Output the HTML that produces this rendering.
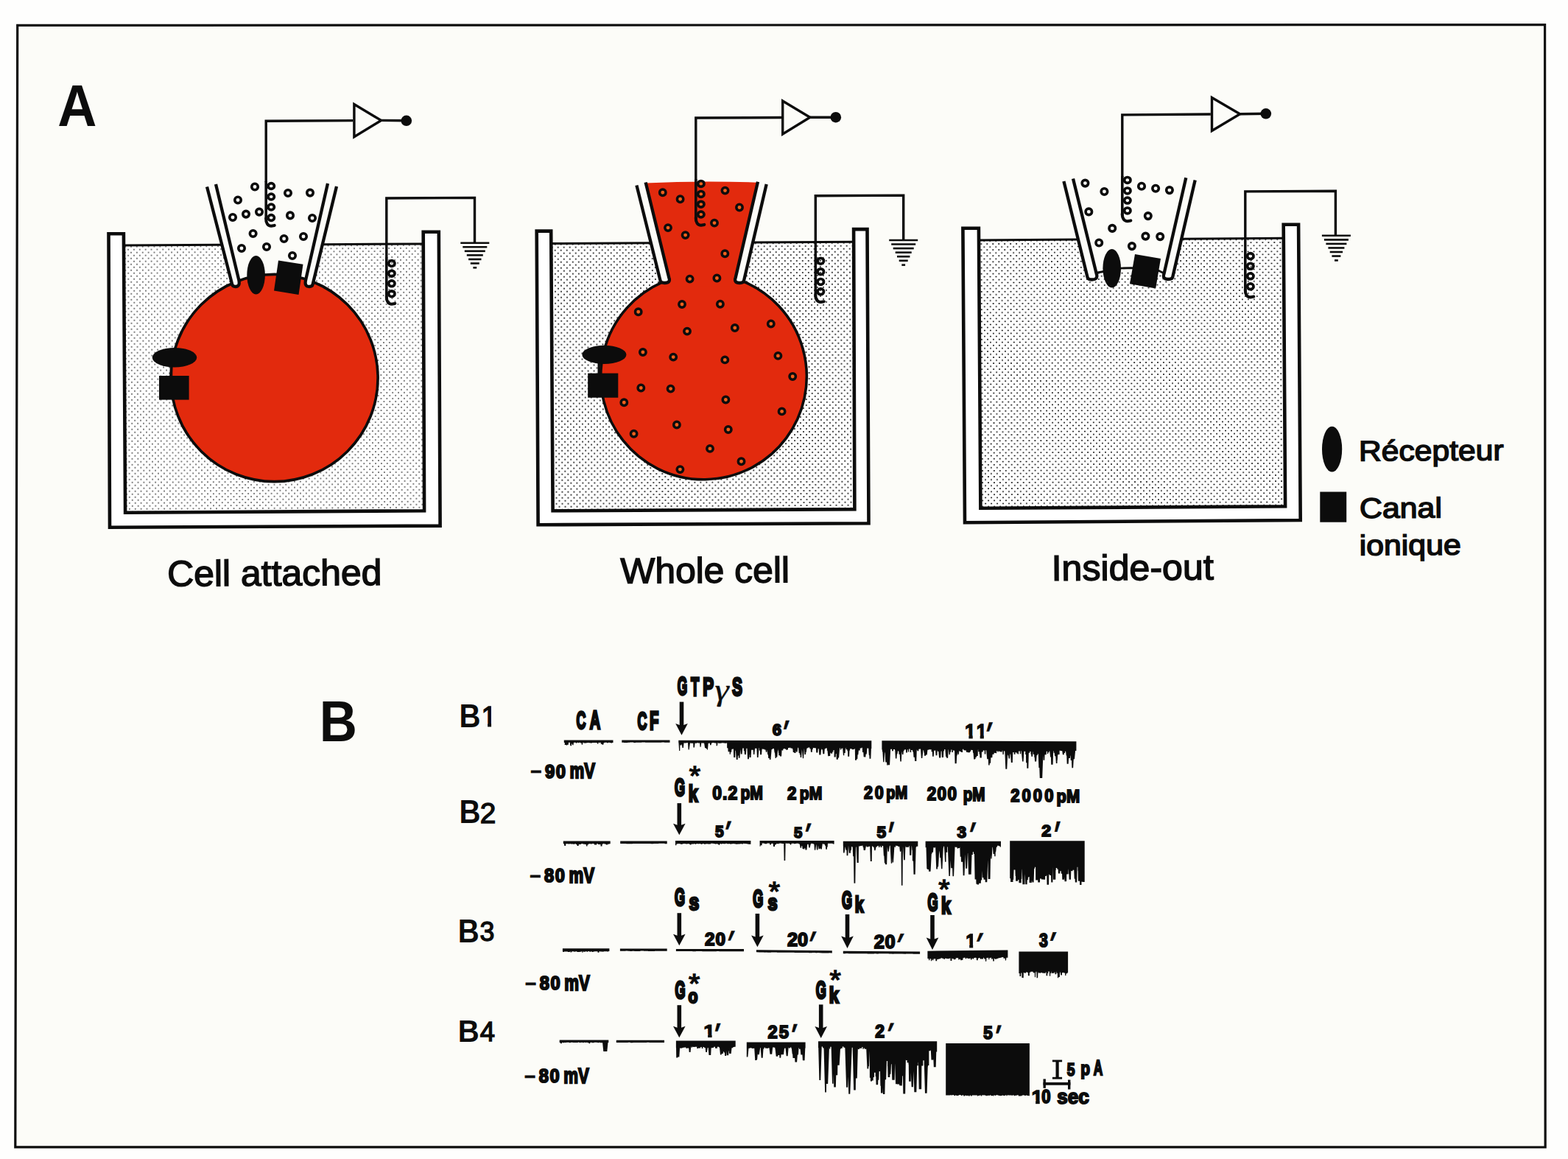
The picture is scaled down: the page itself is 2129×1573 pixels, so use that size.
<!DOCTYPE html>
<html lang="fr"><head><meta charset="utf-8"><title>Patch-clamp : cell attached, whole cell, inside-out</title>
<style>html,body{margin:0;padding:0;background:#fefefd;overflow:hidden}svg{display:block}</style></head>
<body>
<svg xmlns="http://www.w3.org/2000/svg" width="2129" height="1573" viewBox="0 0 2129 1573">
<defs>
<pattern id="dots1" x="174.06" y="338.8" width="7.87" height="8" patternUnits="userSpaceOnUse" patternTransform="rotate(-0.3 174.06 338.8)"><rect width="7.87" height="8" fill="#fff"/><circle cx="0" cy="0" r="0.82" fill="#0a0a0a"/><rect x="-0.36" y="-0.36" width="0.73" height="0.73" fill="#0a0a0a"/><circle cx="7.87" cy="0" r="0.82" fill="#0a0a0a"/><rect x="7.51" y="-0.36" width="0.73" height="0.73" fill="#0a0a0a"/><circle cx="0" cy="8" r="0.82" fill="#0a0a0a"/><rect x="-0.36" y="7.64" width="0.73" height="0.73" fill="#0a0a0a"/><circle cx="7.87" cy="8" r="0.82" fill="#0a0a0a"/><rect x="7.51" y="7.64" width="0.73" height="0.73" fill="#0a0a0a"/><circle cx="3.94" cy="4" r="0.82" fill="#0a0a0a"/><rect x="3.57" y="3.64" width="0.73" height="0.73" fill="#0a0a0a"/></pattern>
<pattern id="dots2" x="765.7" y="335.7" width="8" height="8" patternUnits="userSpaceOnUse" patternTransform="rotate(-0.3 765.7 335.7)"><rect width="8" height="8" fill="#fff"/><circle cx="0" cy="0" r="0.9" fill="#080808"/><rect x="-0.4" y="-0.4" width="0.8" height="0.8" fill="#080808"/><circle cx="8" cy="0" r="0.9" fill="#080808"/><rect x="7.6" y="-0.4" width="0.8" height="0.8" fill="#080808"/><circle cx="0" cy="8" r="0.9" fill="#080808"/><rect x="-0.4" y="7.6" width="0.8" height="0.8" fill="#080808"/><circle cx="8" cy="8" r="0.9" fill="#080808"/><rect x="7.6" y="7.6" width="0.8" height="0.8" fill="#080808"/><circle cx="4" cy="4" r="0.9" fill="#080808"/><rect x="3.6" y="3.6" width="0.8" height="0.8" fill="#080808"/></pattern>
<pattern id="dots3" x="1340.3" y="331.1" width="7.96" height="8.1" patternUnits="userSpaceOnUse" patternTransform="rotate(-0.3 1340.3 331.1)"><rect width="7.96" height="8.1" fill="#fff"/><circle cx="0" cy="0" r="0.98" fill="#050505"/><rect x="-0.44" y="-0.44" width="0.87" height="0.87" fill="#050505"/><circle cx="7.96" cy="0" r="0.98" fill="#050505"/><rect x="7.52" y="-0.44" width="0.87" height="0.87" fill="#050505"/><circle cx="0" cy="8.1" r="0.98" fill="#050505"/><rect x="-0.44" y="7.66" width="0.87" height="0.87" fill="#050505"/><circle cx="7.96" cy="8.1" r="0.98" fill="#050505"/><rect x="7.52" y="7.66" width="0.87" height="0.87" fill="#050505"/><circle cx="3.98" cy="4.05" r="0.98" fill="#050505"/><rect x="3.54" y="3.61" width="0.87" height="0.87" fill="#050505"/></pattern>
</defs>
<rect width="2129" height="1573" fill="#fefefd"/>
<polygon points="23.7,34.4 2097.6,33.6 2098.2,1557 20.8,1556.8" fill="#fcfcf8" stroke="#0c0c0c" stroke-width="3.2" stroke-linejoin="miter"/>
<polygon points="167.99,333 574.76,331 576.1,693.2 170.1,695.8" fill="url(#dots1)" stroke="none" stroke-width="0" stroke-linejoin="miter"/>
<polygon points="281,253.5 457,253 424.6,386 315.2,386" fill="#fcfcf8" stroke="none" stroke-width="0" stroke-linejoin="miter"/>
<line x1="168" y1="333" x2="301.39" y2="332.34" stroke="#0c0c0c" stroke-width="3" stroke-linecap="butt"/>
<line x1="437.85" y1="331.67" x2="575" y2="331" stroke="#0c0c0c" stroke-width="3" stroke-linecap="butt"/>
<circle cx="372.5" cy="513" r="140.6" fill="#e22a0d" stroke="#0c0c0c" stroke-width="3.6"/>
<path d="M281,253.5 L315.2,386 Q315.97,389 319.7,389 Q326.45,389 324.2,379.5 L293,250" fill="#fcfcf8" stroke="#0c0c0c" stroke-width="4.3" stroke-linejoin="round" stroke-linecap="butt"/>
<path d="M457,253 L424.6,386 Q423.87,389 419.9,389 Q412.85,389 415.2,379.5 L445,249" fill="#fcfcf8" stroke="#0c0c0c" stroke-width="4.3" stroke-linejoin="round" stroke-linecap="butt"/>
<polygon points="147.5,317.2 149,715.8 597.6,713.6 595.8,314.7 574.7,314.7 576.1,693.2 170.1,695.8 167.9,317.2" fill="#ffffff" stroke="#0c0c0c" stroke-width="4.6" stroke-linejoin="miter"/>
<circle cx="346" cy="253.5" r="4.25" fill="#fcfcf8" stroke="#0c0c0c" stroke-width="3.6"/>
<circle cx="323" cy="271.5" r="4.25" fill="#fcfcf8" stroke="#0c0c0c" stroke-width="3.6"/>
<circle cx="391" cy="262" r="4.25" fill="#fcfcf8" stroke="#0c0c0c" stroke-width="3.6"/>
<circle cx="421" cy="261.6" r="4.25" fill="#fcfcf8" stroke="#0c0c0c" stroke-width="3.6"/>
<circle cx="316" cy="295" r="4.25" fill="#fcfcf8" stroke="#0c0c0c" stroke-width="3.6"/>
<circle cx="334" cy="290.6" r="4.25" fill="#fcfcf8" stroke="#0c0c0c" stroke-width="3.6"/>
<circle cx="352" cy="287.6" r="4.25" fill="#fcfcf8" stroke="#0c0c0c" stroke-width="3.6"/>
<circle cx="394" cy="292.4" r="4.25" fill="#fcfcf8" stroke="#0c0c0c" stroke-width="3.6"/>
<circle cx="424" cy="296" r="4.25" fill="#fcfcf8" stroke="#0c0c0c" stroke-width="3.6"/>
<circle cx="343.6" cy="317" r="4.25" fill="#fcfcf8" stroke="#0c0c0c" stroke-width="3.6"/>
<circle cx="385.6" cy="324" r="4.25" fill="#fcfcf8" stroke="#0c0c0c" stroke-width="3.6"/>
<circle cx="412" cy="321" r="4.25" fill="#fcfcf8" stroke="#0c0c0c" stroke-width="3.6"/>
<circle cx="328" cy="337" r="4.25" fill="#fcfcf8" stroke="#0c0c0c" stroke-width="3.6"/>
<circle cx="362" cy="335" r="4.25" fill="#fcfcf8" stroke="#0c0c0c" stroke-width="3.6"/>
<circle cx="397" cy="347" r="4.25" fill="#fcfcf8" stroke="#0c0c0c" stroke-width="3.6"/>
<line x1="361.2" y1="246" x2="361.2" y2="297.5" stroke="#0c0c0c" stroke-width="3.6" stroke-linecap="butt"/>
<ellipse cx="368.2" cy="252.5" rx="4.2" ry="3.9" fill="none" stroke="#0c0c0c" stroke-width="3.7"/>
<ellipse cx="368.2" cy="267" rx="4.2" ry="3.9" fill="none" stroke="#0c0c0c" stroke-width="3.7"/>
<ellipse cx="368.2" cy="281" rx="4.2" ry="3.9" fill="none" stroke="#0c0c0c" stroke-width="3.7"/>
<ellipse cx="368.2" cy="295.5" rx="4.2" ry="3.9" fill="none" stroke="#0c0c0c" stroke-width="3.7"/>
<path d="M361.2,296.5 C360.9,302.5 363.7,306.7 368.2,306.7 L372.7,305.9" fill="none" stroke="#0c0c0c" stroke-width="4.1" stroke-linejoin="round" stroke-linecap="round"/>
<path d="M361.2,247 L361.2,164.2 L479.2,163.6" fill="none" stroke="#0c0c0c" stroke-width="3.4" stroke-linejoin="miter" stroke-linecap="butt"/>
<polygon points="480.9,141.5 480.9,185.7 517.5,163.4" fill="#fcfcf8" stroke="#0c0c0c" stroke-width="3.4" stroke-linejoin="miter"/>
<line x1="517.5" y1="163.4" x2="551.8" y2="163.8" stroke="#0c0c0c" stroke-width="3.4" stroke-linecap="butt"/>
<circle cx="551.8" cy="163.8" r="7.3" fill="#0c0c0c" stroke="none" stroke-width="0"/>
<path d="M524.8,349.5 L524.8,269 L644.5,268.4 L644.5,329.5" fill="none" stroke="#0c0c0c" stroke-width="3.4" stroke-linejoin="miter" stroke-linecap="butt"/>
<line x1="625.3" y1="329.7" x2="664.3" y2="329.7" stroke="#0c0c0c" stroke-width="2.6" stroke-linecap="butt"/>
<line x1="628.3" y1="335.25" x2="661.3" y2="335.25" stroke="#0c0c0c" stroke-width="2.6" stroke-linecap="butt"/>
<line x1="630.8" y1="340.8" x2="658.8" y2="340.8" stroke="#0c0c0c" stroke-width="2.6" stroke-linecap="butt"/>
<line x1="633.8" y1="346.35" x2="655.8" y2="346.35" stroke="#0c0c0c" stroke-width="2.6" stroke-linecap="butt"/>
<line x1="636.1" y1="351.9" x2="653.5" y2="351.9" stroke="#0c0c0c" stroke-width="2.6" stroke-linecap="butt"/>
<line x1="638.8" y1="357.45" x2="650.8" y2="357.45" stroke="#0c0c0c" stroke-width="2.6" stroke-linecap="butt"/>
<line x1="642.4" y1="363.3" x2="647.2" y2="363.3" stroke="#0c0c0c" stroke-width="2.6" stroke-linecap="butt"/>
<line x1="524.8" y1="349" x2="524.8" y2="403.5" stroke="#0c0c0c" stroke-width="3.6" stroke-linecap="butt"/>
<ellipse cx="531.8" cy="357.5" rx="4.2" ry="3.9" fill="none" stroke="#0c0c0c" stroke-width="3.7"/>
<ellipse cx="531.8" cy="371.2" rx="4.2" ry="3.9" fill="none" stroke="#0c0c0c" stroke-width="3.7"/>
<ellipse cx="531.8" cy="384.8" rx="4.2" ry="3.9" fill="none" stroke="#0c0c0c" stroke-width="3.7"/>
<ellipse cx="531.8" cy="398.7" rx="4.2" ry="3.9" fill="none" stroke="#0c0c0c" stroke-width="3.7"/>
<path d="M524.8,402.5 C524.5,408.5 527.3,412.7 531.8,412.7 L536.3,411.9" fill="none" stroke="#0c0c0c" stroke-width="4.1" stroke-linejoin="round" stroke-linecap="round"/>
<ellipse cx="347.6" cy="373.2" rx="12.3" ry="26.2" fill="#0c0c0c"/>
<polygon points="378,353.4 411.5,358.7 405.5,400 372,394.6" fill="#0c0c0c" stroke="none" stroke-width="0" stroke-linejoin="miter"/>
<ellipse cx="237" cy="485.2" rx="30.2" ry="13.2" fill="#0c0c0c"/>
<line x1="232.6" y1="496" x2="232.6" y2="511" stroke="#0c0c0c" stroke-width="3.4" stroke-linecap="butt"/>
<rect x="216" y="510" width="40.6" height="32.6" fill="#0c0c0c"/>
<polygon points="748.31,330.6 1159.16,328.2 1160.4,691.1 750.6,693.3" fill="url(#dots2)" stroke="none" stroke-width="0" stroke-linejoin="miter"/>
<polygon points="864.4,251.5 1040.7,250 1010,381 896.6,381" fill="#fcfcf8" stroke="none" stroke-width="0" stroke-linejoin="miter"/>
<line x1="748.4" y1="330.6" x2="884.02" y2="329.81" stroke="#0c0c0c" stroke-width="3" stroke-linecap="butt"/>
<line x1="1022.23" y1="329" x2="1159.3" y2="328.2" stroke="#0c0c0c" stroke-width="3" stroke-linecap="butt"/>
<circle cx="955.5" cy="511" r="139.8" fill="#e22a0d" stroke="none" stroke-width="0"/>
<path d="M876.6,248.4 Q952.8,245.2 1029,247.7 L1001.8,388.5 L905.2,388.5 Z" fill="#e22a0d"/>
<path d="M899.52,382.9 A139.8,139.8 0 1 0 1007.6,381.27" fill="none" stroke="#0c0c0c" stroke-width="3.6" stroke-linejoin="round" stroke-linecap="butt"/>
<path d="M864.4,251.5 L896.6,381 Q897.35,384 902.4,384 Q911.1,384 908.2,376.5 L876.6,247.4" fill="#fcfcf8" stroke="#0c0c0c" stroke-width="4.3" stroke-linejoin="round" stroke-linecap="butt"/>
<path d="M1040.7,250 L1010,381 Q1009.3,384 1004.4,384 Q996,384 998.8,376.5 L1029,246.7" fill="#fcfcf8" stroke="#0c0c0c" stroke-width="4.3" stroke-linejoin="round" stroke-linecap="butt"/>
<polygon points="728.7,313.6 730.6,712.3 1179.5,710.3 1177.5,311.1 1159.1,311.1 1160.4,691.1 750.6,693.3 748.2,313.6" fill="#ffffff" stroke="#0c0c0c" stroke-width="4.6" stroke-linejoin="miter"/>
<circle cx="899.8" cy="261.2" r="4.2" fill="#f0601c" stroke="#0c0c0c" stroke-width="3.5"/>
<circle cx="923.6" cy="270.3" r="4.2" fill="#f0601c" stroke="#0c0c0c" stroke-width="3.5"/>
<circle cx="984.5" cy="258.6" r="4.2" fill="#f0601c" stroke="#0c0c0c" stroke-width="3.5"/>
<circle cx="1004" cy="281.5" r="4.2" fill="#f0601c" stroke="#0c0c0c" stroke-width="3.5"/>
<circle cx="970" cy="302.6" r="4.2" fill="#f0601c" stroke="#0c0c0c" stroke-width="3.5"/>
<circle cx="907" cy="309.1" r="4.2" fill="#f0601c" stroke="#0c0c0c" stroke-width="3.5"/>
<circle cx="930.6" cy="319.1" r="4.2" fill="#f0601c" stroke="#0c0c0c" stroke-width="3.5"/>
<circle cx="984.3" cy="344.3" r="4.2" fill="#f0601c" stroke="#0c0c0c" stroke-width="3.5"/>
<circle cx="936.6" cy="378.6" r="4.2" fill="#f0601c" stroke="#0c0c0c" stroke-width="3.5"/>
<circle cx="973.4" cy="377.5" r="4.2" fill="#f0601c" stroke="#0c0c0c" stroke-width="3.5"/>
<circle cx="926" cy="413" r="4.2" fill="#f0601c" stroke="#0c0c0c" stroke-width="3.5"/>
<circle cx="977.9" cy="412.7" r="4.2" fill="#f0601c" stroke="#0c0c0c" stroke-width="3.5"/>
<circle cx="866.7" cy="423.2" r="4.2" fill="#f0601c" stroke="#0c0c0c" stroke-width="3.5"/>
<circle cx="933" cy="449.6" r="4.2" fill="#f0601c" stroke="#0c0c0c" stroke-width="3.5"/>
<circle cx="997.8" cy="445" r="4.2" fill="#f0601c" stroke="#0c0c0c" stroke-width="3.5"/>
<circle cx="1046.8" cy="439.5" r="4.2" fill="#f0601c" stroke="#0c0c0c" stroke-width="3.5"/>
<circle cx="872.9" cy="478" r="4.2" fill="#f0601c" stroke="#0c0c0c" stroke-width="3.5"/>
<circle cx="914.2" cy="484.6" r="4.2" fill="#f0601c" stroke="#0c0c0c" stroke-width="3.5"/>
<circle cx="984.3" cy="488.4" r="4.2" fill="#f0601c" stroke="#0c0c0c" stroke-width="3.5"/>
<circle cx="1056.4" cy="482.9" r="4.2" fill="#f0601c" stroke="#0c0c0c" stroke-width="3.5"/>
<circle cx="1076.2" cy="511" r="4.2" fill="#f0601c" stroke="#0c0c0c" stroke-width="3.5"/>
<circle cx="870.3" cy="526.5" r="4.2" fill="#f0601c" stroke="#0c0c0c" stroke-width="3.5"/>
<circle cx="910.6" cy="527.6" r="4.2" fill="#f0601c" stroke="#0c0c0c" stroke-width="3.5"/>
<circle cx="847.3" cy="546.2" r="4.2" fill="#f0601c" stroke="#0c0c0c" stroke-width="3.5"/>
<circle cx="985.4" cy="542.5" r="4.2" fill="#f0601c" stroke="#0c0c0c" stroke-width="3.5"/>
<circle cx="1061.6" cy="558.4" r="4.2" fill="#f0601c" stroke="#0c0c0c" stroke-width="3.5"/>
<circle cx="918.9" cy="576.5" r="4.2" fill="#f0601c" stroke="#0c0c0c" stroke-width="3.5"/>
<circle cx="988.8" cy="583" r="4.2" fill="#f0601c" stroke="#0c0c0c" stroke-width="3.5"/>
<circle cx="860.6" cy="588.7" r="4.2" fill="#f0601c" stroke="#0c0c0c" stroke-width="3.5"/>
<circle cx="964" cy="608.9" r="4.2" fill="#f0601c" stroke="#0c0c0c" stroke-width="3.5"/>
<circle cx="1006.5" cy="626.2" r="4.2" fill="#f0601c" stroke="#0c0c0c" stroke-width="3.5"/>
<circle cx="923.4" cy="637.1" r="4.2" fill="#f0601c" stroke="#0c0c0c" stroke-width="3.5"/>
<line x1="944.8" y1="243" x2="944.8" y2="296.5" stroke="#0c0c0c" stroke-width="3.6" stroke-linecap="butt"/>
<ellipse cx="951.8" cy="249.4" rx="4.2" ry="3.9" fill="#f0601c" stroke="#0c0c0c" stroke-width="3.7"/>
<ellipse cx="951.8" cy="263.4" rx="4.2" ry="3.9" fill="#f0601c" stroke="#0c0c0c" stroke-width="3.7"/>
<ellipse cx="951.8" cy="277.2" rx="4.2" ry="3.9" fill="#f0601c" stroke="#0c0c0c" stroke-width="3.7"/>
<ellipse cx="951.8" cy="291" rx="4.2" ry="3.9" fill="#f0601c" stroke="#0c0c0c" stroke-width="3.7"/>
<path d="M944.8,295.5 C944.5,301.5 947.3,305.7 951.8,305.7 L956.3,304.9" fill="none" stroke="#0c0c0c" stroke-width="4.1" stroke-linejoin="round" stroke-linecap="round"/>
<path d="M944.8,245 L944.8,160 L1061,159.5" fill="none" stroke="#0c0c0c" stroke-width="3.4" stroke-linejoin="miter" stroke-linecap="butt"/>
<polygon points="1062.7,137.1 1062.7,181.9 1099.8,159.3" fill="#fcfcf8" stroke="#0c0c0c" stroke-width="3.4" stroke-linejoin="miter"/>
<line x1="1099.8" y1="159.3" x2="1134.8" y2="159.2" stroke="#0c0c0c" stroke-width="3.4" stroke-linecap="butt"/>
<circle cx="1134.8" cy="159.2" r="7.3" fill="#0c0c0c" stroke="none" stroke-width="0"/>
<path d="M1107.3,346.2 L1107.3,265.7 L1226.7,265.1 L1226.7,326" fill="none" stroke="#0c0c0c" stroke-width="3.4" stroke-linejoin="miter" stroke-linecap="butt"/>
<line x1="1207.2" y1="326" x2="1246.2" y2="326" stroke="#0c0c0c" stroke-width="2.6" stroke-linecap="butt"/>
<line x1="1210.2" y1="331.55" x2="1243.2" y2="331.55" stroke="#0c0c0c" stroke-width="2.6" stroke-linecap="butt"/>
<line x1="1212.7" y1="337.1" x2="1240.7" y2="337.1" stroke="#0c0c0c" stroke-width="2.6" stroke-linecap="butt"/>
<line x1="1215.7" y1="342.65" x2="1237.7" y2="342.65" stroke="#0c0c0c" stroke-width="2.6" stroke-linecap="butt"/>
<line x1="1218" y1="348.2" x2="1235.4" y2="348.2" stroke="#0c0c0c" stroke-width="2.6" stroke-linecap="butt"/>
<line x1="1220.7" y1="353.75" x2="1232.7" y2="353.75" stroke="#0c0c0c" stroke-width="2.6" stroke-linecap="butt"/>
<line x1="1224.3" y1="359.6" x2="1229.1" y2="359.6" stroke="#0c0c0c" stroke-width="2.6" stroke-linecap="butt"/>
<line x1="1107.3" y1="346" x2="1107.3" y2="400.8" stroke="#0c0c0c" stroke-width="3.6" stroke-linecap="butt"/>
<ellipse cx="1114.3" cy="354.2" rx="4.2" ry="3.9" fill="none" stroke="#0c0c0c" stroke-width="3.7"/>
<ellipse cx="1114.3" cy="368.7" rx="4.2" ry="3.9" fill="none" stroke="#0c0c0c" stroke-width="3.7"/>
<ellipse cx="1114.3" cy="382.4" rx="4.2" ry="3.9" fill="none" stroke="#0c0c0c" stroke-width="3.7"/>
<ellipse cx="1114.3" cy="395.8" rx="4.2" ry="3.9" fill="none" stroke="#0c0c0c" stroke-width="3.7"/>
<path d="M1107.3,399.8 C1107,405.8 1109.8,410 1114.3,410 L1118.8,409.2" fill="none" stroke="#0c0c0c" stroke-width="4.1" stroke-linejoin="round" stroke-linecap="round"/>
<ellipse cx="820.4" cy="481.4" rx="30" ry="12.6" fill="#0c0c0c"/>
<line x1="813.2" y1="492" x2="813.2" y2="508" stroke="#0c0c0c" stroke-width="3.4" stroke-linecap="butt"/>
<rect x="798.2" y="506.6" width="41.1" height="33.1" fill="#0c0c0c"/>
<polygon points="1329.01,326 1742.82,323.2 1745.1,687.3 1331.4,689.8" fill="url(#dots3)" stroke="none" stroke-width="0" stroke-linejoin="miter"/>
<polygon points="1444.4,245.9 1622.7,244.4 1593.82,369 1581.4,367.5 1488.23,369.5 1474.87,369.5" fill="#fcfcf8" stroke="none" stroke-width="0" stroke-linejoin="miter"/>
<line x1="1329.2" y1="326" x2="1464" y2="325.09" stroke="#0c0c0c" stroke-width="3" stroke-linecap="butt"/>
<line x1="1604.27" y1="324.14" x2="1743" y2="323.2" stroke="#0c0c0c" stroke-width="3" stroke-linecap="butt"/>
<polyline points="1487.5,370.4 1498.7,368.5 1521.5,364.1 1536.4,363.6 1573,367.3 1579.6,370.4" fill="none" stroke="#0c0c0c" stroke-width="2.8" stroke-linejoin="round"/>
<path d="M1444.4,245.9 L1476.6,376.5 Q1477.34,379.5 1482.6,379.5 Q1491.6,379.5 1488.6,371 L1457,242.5" fill="#fcfcf8" stroke="#0c0c0c" stroke-width="4.3" stroke-linejoin="round" stroke-linecap="butt"/>
<path d="M1622.7,244.4 L1592.2,376 Q1591.5,379 1586.4,379 Q1577.7,379 1580.6,371 L1610.3,241.3" fill="#fcfcf8" stroke="#0c0c0c" stroke-width="4.3" stroke-linejoin="round" stroke-linecap="butt"/>
<polygon points="1307.4,309.7 1310,709.2 1765.7,706 1763.1,304.8 1742.7,304.8 1745.1,687.3 1331.4,689.8 1328.9,309.7" fill="#ffffff" stroke="#0c0c0c" stroke-width="4.6" stroke-linejoin="miter"/>
<circle cx="1473.4" cy="248.6" r="4.25" fill="#fcfcf8" stroke="#0c0c0c" stroke-width="3.6"/>
<circle cx="1499.4" cy="260" r="4.25" fill="#fcfcf8" stroke="#0c0c0c" stroke-width="3.6"/>
<circle cx="1550" cy="252.8" r="4.25" fill="#fcfcf8" stroke="#0c0c0c" stroke-width="3.6"/>
<circle cx="1569.1" cy="255.8" r="4.25" fill="#fcfcf8" stroke="#0c0c0c" stroke-width="3.6"/>
<circle cx="1587.9" cy="258.1" r="4.25" fill="#fcfcf8" stroke="#0c0c0c" stroke-width="3.6"/>
<circle cx="1478.3" cy="287.4" r="4.25" fill="#fcfcf8" stroke="#0c0c0c" stroke-width="3.6"/>
<circle cx="1558.8" cy="293.1" r="4.25" fill="#fcfcf8" stroke="#0c0c0c" stroke-width="3.6"/>
<circle cx="1510.2" cy="309.9" r="4.25" fill="#fcfcf8" stroke="#0c0c0c" stroke-width="3.6"/>
<circle cx="1555.4" cy="320.6" r="4.25" fill="#fcfcf8" stroke="#0c0c0c" stroke-width="3.6"/>
<circle cx="1575.2" cy="321.1" r="4.25" fill="#fcfcf8" stroke="#0c0c0c" stroke-width="3.6"/>
<circle cx="1492.2" cy="329.5" r="4.25" fill="#fcfcf8" stroke="#0c0c0c" stroke-width="3.6"/>
<circle cx="1536.9" cy="334.1" r="4.25" fill="#fcfcf8" stroke="#0c0c0c" stroke-width="3.6"/>
<line x1="1523.8" y1="239" x2="1523.8" y2="291" stroke="#0c0c0c" stroke-width="3.6" stroke-linecap="butt"/>
<ellipse cx="1530.8" cy="244.4" rx="4.2" ry="3.9" fill="none" stroke="#0c0c0c" stroke-width="3.7"/>
<ellipse cx="1530.8" cy="258.9" rx="4.2" ry="3.9" fill="none" stroke="#0c0c0c" stroke-width="3.7"/>
<ellipse cx="1530.8" cy="272.1" rx="4.2" ry="3.9" fill="none" stroke="#0c0c0c" stroke-width="3.7"/>
<ellipse cx="1530.8" cy="285.9" rx="4.2" ry="3.9" fill="none" stroke="#0c0c0c" stroke-width="3.7"/>
<path d="M1523.8,290 C1523.5,296 1526.3,300.2 1530.8,300.2 L1535.3,299.4" fill="none" stroke="#0c0c0c" stroke-width="4.1" stroke-linejoin="round" stroke-linecap="round"/>
<path d="M1523.8,240 L1523.8,155.9 L1643.8,154.95" fill="none" stroke="#0c0c0c" stroke-width="3.4" stroke-linejoin="miter" stroke-linecap="butt"/>
<polygon points="1645.5,132.5 1645.5,177.4 1683.6,154.8" fill="#fcfcf8" stroke="#0c0c0c" stroke-width="3.4" stroke-linejoin="miter"/>
<line x1="1683.6" y1="154.8" x2="1718.8" y2="154.3" stroke="#0c0c0c" stroke-width="3.4" stroke-linecap="butt"/>
<circle cx="1718.8" cy="154.3" r="7.3" fill="#0c0c0c" stroke="none" stroke-width="0"/>
<path d="M1690.8,339.6 L1690.8,259.9 L1813.4,259.3 L1813.4,319.5" fill="none" stroke="#0c0c0c" stroke-width="3.4" stroke-linejoin="miter" stroke-linecap="butt"/>
<line x1="1794.9" y1="319.8" x2="1833.9" y2="319.8" stroke="#0c0c0c" stroke-width="2.6" stroke-linecap="butt"/>
<line x1="1797.9" y1="325.35" x2="1830.9" y2="325.35" stroke="#0c0c0c" stroke-width="2.6" stroke-linecap="butt"/>
<line x1="1800.4" y1="330.9" x2="1828.4" y2="330.9" stroke="#0c0c0c" stroke-width="2.6" stroke-linecap="butt"/>
<line x1="1803.4" y1="336.45" x2="1825.4" y2="336.45" stroke="#0c0c0c" stroke-width="2.6" stroke-linecap="butt"/>
<line x1="1805.7" y1="342" x2="1823.1" y2="342" stroke="#0c0c0c" stroke-width="2.6" stroke-linecap="butt"/>
<line x1="1808.4" y1="347.55" x2="1820.4" y2="347.55" stroke="#0c0c0c" stroke-width="2.6" stroke-linecap="butt"/>
<line x1="1812" y1="353.4" x2="1816.8" y2="353.4" stroke="#0c0c0c" stroke-width="2.6" stroke-linecap="butt"/>
<line x1="1690.8" y1="339" x2="1690.8" y2="394.2" stroke="#0c0c0c" stroke-width="3.6" stroke-linecap="butt"/>
<ellipse cx="1697.8" cy="347.6" rx="4.2" ry="3.9" fill="none" stroke="#0c0c0c" stroke-width="3.7"/>
<ellipse cx="1697.8" cy="361.3" rx="4.2" ry="3.9" fill="none" stroke="#0c0c0c" stroke-width="3.7"/>
<ellipse cx="1697.8" cy="374.8" rx="4.2" ry="3.9" fill="none" stroke="#0c0c0c" stroke-width="3.7"/>
<ellipse cx="1697.8" cy="388.8" rx="4.2" ry="3.9" fill="none" stroke="#0c0c0c" stroke-width="3.7"/>
<path d="M1690.8,393.2 C1690.5,399.2 1693.3,403.4 1697.8,403.4 L1702.3,402.6" fill="none" stroke="#0c0c0c" stroke-width="4.1" stroke-linejoin="round" stroke-linecap="round"/>
<ellipse cx="1509.7" cy="364.2" rx="12.3" ry="26.2" fill="#0c0c0c"/>
<polygon points="1541,344.9 1576,351 1569.2,391.4 1534,385.3" fill="#0c0c0c" stroke="none" stroke-width="0" stroke-linejoin="miter"/>
<ellipse cx="1808.6" cy="609.6" rx="13.6" ry="30.9" fill="#0c0c0c"/>
<rect x="1792.3" y="667.5" width="35.9" height="41.2" fill="#0c0c0c"/>
<rect x="720.4" y="1045.5" width="0" height="0" fill="none"/>
<rect x="719.4" y="1187.15" width="0" height="0" fill="none"/>
<rect x="713" y="1333.25" width="0" height="0" fill="none"/>
<rect x="712" y="1459.05" width="0" height="0" fill="none"/>
<text transform="matrix(0.7360 0 0 0.7964 78.15 170.80)" font-size="100" font-family="'Liberation Sans', sans-serif" font-weight="bold" fill="#0c0c0c">A</text>
<text transform="rotate(-0.35 372.7 794.65) matrix(0.4993 0 0 0.4916 227.21 794.65)" font-size="100" font-family="'Liberation Sans', sans-serif" fill="#0c0c0c" stroke="#0c0c0c" stroke-width="1.5" stroke-linejoin="miter" stroke-miterlimit="3" vector-effect="non-scaling-stroke">Cell attached</text>
<text transform="rotate(-0.35 955.65 790.85) matrix(0.4975 0 0 0.4864 842.55 790.85)" font-size="100" font-family="'Liberation Sans', sans-serif" fill="#0c0c0c" stroke="#0c0c0c" stroke-width="1.5" stroke-linejoin="miter" stroke-miterlimit="3" vector-effect="non-scaling-stroke">Whole cell</text>
<text transform="rotate(-0.35 1539.8 787.15) matrix(0.5015 0 0 0.4864 1427.63 787.15)" font-size="100" font-family="'Liberation Sans', sans-serif" fill="#0c0c0c" stroke="#0c0c0c" stroke-width="1.5" stroke-linejoin="miter" stroke-miterlimit="3" vector-effect="non-scaling-stroke">Inside-out</text>
<text transform="rotate(-0.3 1944.95 624.9) matrix(0.4262 0 0 0.3883 1845.07 624.90)" font-size="100" font-family="'Liberation Sans', sans-serif" fill="#0c0c0c" stroke="#0c0c0c" stroke-width="1.6" stroke-linejoin="miter" stroke-miterlimit="3" vector-effect="non-scaling-stroke">Récepteur</text>
<text transform="rotate(-0.3 1901.55 702.7) matrix(0.4284 0 0 0.3867 1845.99 702.70)" font-size="100" font-family="'Liberation Sans', sans-serif" fill="#0c0c0c" stroke="#0c0c0c" stroke-width="1.6" stroke-linejoin="miter" stroke-miterlimit="3" vector-effect="non-scaling-stroke">Canal</text>
<text transform="rotate(-0.3 1915.25 753.1) matrix(0.4282 0 0 0.3867 1845.72 753.10)" font-size="100" font-family="'Liberation Sans', sans-serif" fill="#0c0c0c" stroke="#0c0c0c" stroke-width="1.6" stroke-linejoin="miter" stroke-miterlimit="3" vector-effect="non-scaling-stroke">ionique</text>
<text transform="matrix(0.7088 0 0 0.7751 433.67 1006.40)" font-size="100" font-family="'Liberation Sans', sans-serif" font-weight="bold" fill="#0c0c0c">B</text>
<text transform="matrix(0.4016 0 0 0.4409 623.39 986.70)" font-size="100" font-family="'Liberation Sans', sans-serif" font-weight="bold" fill="#0c0c0c">B</text>
<clipPath id="one9" clipPathUnits="userSpaceOnUse"><rect x="-20" y="-120" width="56.14" height="107.58"/><rect x="22.99" y="-12.92" width="13.15" height="14.74"/></clipPath>
<text transform="matrix(0.3776 0 0 0.3840 653.47 986.00)" font-size="100" font-family="'Liberation Sans', sans-serif" fill="#0c0c0c" stroke="#0c0c0c" stroke-width="1.4" stroke-linejoin="miter" stroke-miterlimit="3" vector-effect="non-scaling-stroke" clip-path="url(#one9)">1</text>
<text transform="matrix(0.4016 0 0 0.4409 623.39 1117.20)" font-size="100" font-family="'Liberation Sans', sans-serif" font-weight="bold" fill="#0c0c0c">B</text>
<text transform="matrix(0.3883 0 0 0.3840 651.68 1116.50)" font-size="100" font-family="'Liberation Sans', sans-serif" fill="#0c0c0c" stroke="#0c0c0c" stroke-width="1.4" stroke-linejoin="miter" stroke-miterlimit="3" vector-effect="non-scaling-stroke">2</text>
<text transform="matrix(0.4016 0 0 0.4366 621.79 1278.70)" font-size="100" font-family="'Liberation Sans', sans-serif" font-weight="bold" fill="#0c0c0c">B</text>
<text transform="matrix(0.3572 0 0 0.3715 651.58 1277.42)" font-size="100" font-family="'Liberation Sans', sans-serif" fill="#0c0c0c" stroke="#0c0c0c" stroke-width="1.4" stroke-linejoin="miter" stroke-miterlimit="3" vector-effect="non-scaling-stroke">3</text>
<text transform="matrix(0.4016 0 0 0.4224 621.79 1413.70)" font-size="100" font-family="'Liberation Sans', sans-serif" font-weight="bold" fill="#0c0c0c">B</text>
<text transform="matrix(0.3646 0 0 0.3655 651.63 1413.00)" font-size="100" font-family="'Liberation Sans', sans-serif" fill="#0c0c0c" stroke="#0c0c0c" stroke-width="1.4" stroke-linejoin="miter" stroke-miterlimit="3" vector-effect="non-scaling-stroke">4</text>
<text transform="matrix(0.1786 0 0 0.3395 782.39 988.82)" font-size="100" font-family="'Liberation Sans', sans-serif" font-weight="bold" fill="#0c0c0c" stroke="#0c0c0c" stroke-width="2.7" stroke-linejoin="miter" stroke-miterlimit="3" vector-effect="non-scaling-stroke">C</text>
<text transform="matrix(0.1993 0 0 0.3470 800.64 989.35)" font-size="100" font-family="'Liberation Sans', sans-serif" font-weight="bold" fill="#0c0c0c" stroke="#0c0c0c" stroke-width="2.7" stroke-linejoin="miter" stroke-miterlimit="3" vector-effect="non-scaling-stroke">A</text>
<text transform="matrix(0.1786 0 0 0.3367 865.39 989.82)" font-size="100" font-family="'Liberation Sans', sans-serif" font-weight="bold" fill="#0c0c0c" stroke="#0c0c0c" stroke-width="2.7" stroke-linejoin="miter" stroke-miterlimit="3" vector-effect="non-scaling-stroke">C</text>
<text transform="matrix(0.2036 0 0 0.3442 882.08 990.35)" font-size="100" font-family="'Liberation Sans', sans-serif" font-weight="bold" fill="#0c0c0c" stroke="#0c0c0c" stroke-width="2.7" stroke-linejoin="miter" stroke-miterlimit="3" vector-effect="non-scaling-stroke">F</text>
<text transform="matrix(0.1731 0 0 0.3450 919.81 943.41)" font-size="100" font-family="'Liberation Sans', sans-serif" font-weight="bold" fill="#0c0c0c" stroke="#0c0c0c" stroke-width="2.7" stroke-linejoin="miter" stroke-miterlimit="3" vector-effect="non-scaling-stroke">G</text>
<text transform="matrix(0.1854 0 0 0.3527 938.05 943.95)" font-size="100" font-family="'Liberation Sans', sans-serif" font-weight="bold" fill="#0c0c0c" stroke="#0c0c0c" stroke-width="2.7" stroke-linejoin="miter" stroke-miterlimit="3" vector-effect="non-scaling-stroke">T</text>
<text transform="matrix(0.2231 0 0 0.3527 954.36 943.95)" font-size="100" font-family="'Liberation Sans', sans-serif" font-weight="bold" fill="#0c0c0c" stroke="#0c0c0c" stroke-width="2.7" stroke-linejoin="miter" stroke-miterlimit="3" vector-effect="non-scaling-stroke">P</text>
<text transform="matrix(0.4874 0 0 0.4000 970.44 949.95)" font-size="100" font-family="'Liberation Serif', serif" font-style="italic" fill="#0c0c0c" stroke="#0c0c0c" stroke-width="0.4" stroke-linejoin="miter" stroke-miterlimit="3" vector-effect="non-scaling-stroke">γ</text>
<text transform="matrix(0.2096 0 0 0.3506 994.02 943.60)" font-size="100" font-family="'Liberation Sans', sans-serif" font-weight="bold" fill="#0c0c0c" stroke="#0c0c0c" stroke-width="2.7" stroke-linejoin="miter" stroke-miterlimit="3" vector-effect="non-scaling-stroke">S</text>
<text transform="matrix(0.2599 0 0 0.2640 720.29 1056.11)" font-size="100" font-family="'Liberation Sans', sans-serif" font-weight="bold" fill="#0c0c0c" stroke="#0c0c0c" stroke-width="1" stroke-linejoin="miter" stroke-miterlimit="3" vector-effect="non-scaling-stroke">−</text>
<text transform="matrix(0.2379 0 0 0.2643 740.06 1055.79)" font-size="100" font-family="'Liberation Sans', sans-serif" font-weight="bold" fill="#0c0c0c" stroke="#0c0c0c" stroke-width="2" stroke-linejoin="miter" stroke-miterlimit="3" vector-effect="non-scaling-stroke" letter-spacing="6.07">90</text>
<text transform="matrix(0.2222 0 0 0.3015 773.61 1056.20)" font-size="100" font-family="'Liberation Sans', sans-serif" font-weight="bold" fill="#0c0c0c" stroke="#0c0c0c" stroke-width="2" stroke-linejoin="miter" stroke-miterlimit="3" vector-effect="non-scaling-stroke">mV</text>
<text transform="matrix(0.2599 0 0 0.2640 719.29 1197.76)" font-size="100" font-family="'Liberation Sans', sans-serif" font-weight="bold" fill="#0c0c0c" stroke="#0c0c0c" stroke-width="1" stroke-linejoin="miter" stroke-miterlimit="3" vector-effect="non-scaling-stroke">−</text>
<text transform="matrix(0.2367 0 0 0.2630 739.06 1197.39)" font-size="100" font-family="'Liberation Sans', sans-serif" font-weight="bold" fill="#0c0c0c" stroke="#0c0c0c" stroke-width="2" stroke-linejoin="miter" stroke-miterlimit="3" vector-effect="non-scaling-stroke" letter-spacing="6.65">80</text>
<text transform="matrix(0.2222 0 0 0.3001 772.61 1197.80)" font-size="100" font-family="'Liberation Sans', sans-serif" font-weight="bold" fill="#0c0c0c" stroke="#0c0c0c" stroke-width="2" stroke-linejoin="miter" stroke-miterlimit="3" vector-effect="non-scaling-stroke">mV</text>
<text transform="matrix(0.2599 0 0 0.2640 712.89 1343.86)" font-size="100" font-family="'Liberation Sans', sans-serif" font-weight="bold" fill="#0c0c0c" stroke="#0c0c0c" stroke-width="1" stroke-linejoin="miter" stroke-miterlimit="3" vector-effect="non-scaling-stroke">−</text>
<text transform="matrix(0.2367 0 0 0.2630 732.66 1343.49)" font-size="100" font-family="'Liberation Sans', sans-serif" font-weight="bold" fill="#0c0c0c" stroke="#0c0c0c" stroke-width="2" stroke-linejoin="miter" stroke-miterlimit="3" vector-effect="non-scaling-stroke" letter-spacing="6.65">80</text>
<text transform="matrix(0.2222 0 0 0.3001 766.21 1343.90)" font-size="100" font-family="'Liberation Sans', sans-serif" font-weight="bold" fill="#0c0c0c" stroke="#0c0c0c" stroke-width="2" stroke-linejoin="miter" stroke-miterlimit="3" vector-effect="non-scaling-stroke">mV</text>
<text transform="matrix(0.2599 0 0 0.2640 711.89 1469.66)" font-size="100" font-family="'Liberation Sans', sans-serif" font-weight="bold" fill="#0c0c0c" stroke="#0c0c0c" stroke-width="1" stroke-linejoin="miter" stroke-miterlimit="3" vector-effect="non-scaling-stroke">−</text>
<text transform="matrix(0.2367 0 0 0.2630 731.66 1469.29)" font-size="100" font-family="'Liberation Sans', sans-serif" font-weight="bold" fill="#0c0c0c" stroke="#0c0c0c" stroke-width="2" stroke-linejoin="miter" stroke-miterlimit="3" vector-effect="non-scaling-stroke" letter-spacing="6.65">80</text>
<text transform="matrix(0.2222 0 0 0.3001 765.21 1469.70)" font-size="100" font-family="'Liberation Sans', sans-serif" font-weight="bold" fill="#0c0c0c" stroke="#0c0c0c" stroke-width="2" stroke-linejoin="miter" stroke-miterlimit="3" vector-effect="non-scaling-stroke">mV</text>
<text transform="matrix(0.1804 0 0 0.3353 915.99 1079.63)" font-size="100" font-family="'Liberation Sans', sans-serif" font-weight="bold" fill="#0c0c0c" stroke="#0c0c0c" stroke-width="2.9" stroke-linejoin="miter" stroke-miterlimit="3" vector-effect="non-scaling-stroke">G</text>
<text transform="matrix(0.2300 0 0 0.3227 934.76 1087.90)" font-size="100" font-family="'Liberation Sans', sans-serif" font-weight="bold" fill="#0c0c0c" stroke="#0c0c0c" stroke-width="2.6" stroke-linejoin="miter" stroke-miterlimit="3" vector-effect="non-scaling-stroke">k</text>
<text transform="matrix(0.3923 0 0 0.3760 935.64 1066.29)" font-size="100" font-family="'Liberation Sans', sans-serif" fill="#0c0c0c" stroke="#0c0c0c" stroke-width="1.5" stroke-linejoin="miter" stroke-miterlimit="3" vector-effect="non-scaling-stroke">*</text>
<text transform="matrix(0.1804 0 0 0.3353 915.99 1229.43)" font-size="100" font-family="'Liberation Sans', sans-serif" font-weight="bold" fill="#0c0c0c" stroke="#0c0c0c" stroke-width="2.9" stroke-linejoin="miter" stroke-miterlimit="3" vector-effect="non-scaling-stroke">G</text>
<text transform="matrix(0.2477 0 0 0.3058 935.43 1234.62)" font-size="100" font-family="'Liberation Sans', sans-serif" font-weight="bold" fill="#0c0c0c" stroke="#0c0c0c" stroke-width="2.6" stroke-linejoin="miter" stroke-miterlimit="3" vector-effect="non-scaling-stroke">s</text>
<text transform="matrix(0.1804 0 0 0.3353 1022.19 1231.33)" font-size="100" font-family="'Liberation Sans', sans-serif" font-weight="bold" fill="#0c0c0c" stroke="#0c0c0c" stroke-width="2.9" stroke-linejoin="miter" stroke-miterlimit="3" vector-effect="non-scaling-stroke">G</text>
<text transform="matrix(0.2354 0 0 0.2880 1042.56 1234.65)" font-size="100" font-family="'Liberation Sans', sans-serif" font-weight="bold" fill="#0c0c0c" stroke="#0c0c0c" stroke-width="2.6" stroke-linejoin="miter" stroke-miterlimit="3" vector-effect="non-scaling-stroke">s</text>
<text transform="matrix(0.3923 0 0 0.3760 1043.64 1222.89)" font-size="100" font-family="'Liberation Sans', sans-serif" fill="#0c0c0c" stroke="#0c0c0c" stroke-width="1.5" stroke-linejoin="miter" stroke-miterlimit="3" vector-effect="non-scaling-stroke">*</text>
<text transform="matrix(0.1804 0 0 0.3353 1142.89 1233.23)" font-size="100" font-family="'Liberation Sans', sans-serif" font-weight="bold" fill="#0c0c0c" stroke="#0c0c0c" stroke-width="2.9" stroke-linejoin="miter" stroke-miterlimit="3" vector-effect="non-scaling-stroke">G</text>
<text transform="matrix(0.2120 0 0 0.2996 1160.77 1237.90)" font-size="100" font-family="'Liberation Sans', sans-serif" font-weight="bold" fill="#0c0c0c" stroke="#0c0c0c" stroke-width="2.6" stroke-linejoin="miter" stroke-miterlimit="3" vector-effect="non-scaling-stroke">k</text>
<text transform="matrix(0.1804 0 0 0.3353 1259.39 1236.03)" font-size="100" font-family="'Liberation Sans', sans-serif" font-weight="bold" fill="#0c0c0c" stroke="#0c0c0c" stroke-width="2.9" stroke-linejoin="miter" stroke-miterlimit="3" vector-effect="non-scaling-stroke">G</text>
<text transform="matrix(0.2300 0 0 0.3091 1278.06 1239.70)" font-size="100" font-family="'Liberation Sans', sans-serif" font-weight="bold" fill="#0c0c0c" stroke="#0c0c0c" stroke-width="2.6" stroke-linejoin="miter" stroke-miterlimit="3" vector-effect="non-scaling-stroke">k</text>
<text transform="matrix(0.3923 0 0 0.3760 1274.34 1220.09)" font-size="100" font-family="'Liberation Sans', sans-serif" fill="#0c0c0c" stroke="#0c0c0c" stroke-width="1.5" stroke-linejoin="miter" stroke-miterlimit="3" vector-effect="non-scaling-stroke">*</text>
<text transform="matrix(0.1804 0 0 0.3353 916.59 1355.33)" font-size="100" font-family="'Liberation Sans', sans-serif" font-weight="bold" fill="#0c0c0c" stroke="#0c0c0c" stroke-width="2.9" stroke-linejoin="miter" stroke-miterlimit="3" vector-effect="non-scaling-stroke">G</text>
<text transform="matrix(0.2103 0 0 0.2542 934.54 1360.60)" font-size="100" font-family="'Liberation Sans', sans-serif" font-weight="bold" fill="#0c0c0c" stroke="#0c0c0c" stroke-width="2.6" stroke-linejoin="miter" stroke-miterlimit="3" vector-effect="non-scaling-stroke">o</text>
<text transform="matrix(0.3923 0 0 0.3760 935.04 1347.89)" font-size="100" font-family="'Liberation Sans', sans-serif" fill="#0c0c0c" stroke="#0c0c0c" stroke-width="1.5" stroke-linejoin="miter" stroke-miterlimit="3" vector-effect="non-scaling-stroke">*</text>
<text transform="matrix(0.1804 0 0 0.3353 1107.79 1354.83)" font-size="100" font-family="'Liberation Sans', sans-serif" font-weight="bold" fill="#0c0c0c" stroke="#0c0c0c" stroke-width="2.9" stroke-linejoin="miter" stroke-miterlimit="3" vector-effect="non-scaling-stroke">G</text>
<text transform="matrix(0.2360 0 0 0.3023 1125.73 1361.10)" font-size="100" font-family="'Liberation Sans', sans-serif" font-weight="bold" fill="#0c0c0c" stroke="#0c0c0c" stroke-width="2.6" stroke-linejoin="miter" stroke-miterlimit="3" vector-effect="non-scaling-stroke">k</text>
<text transform="matrix(0.3923 0 0 0.3760 1126.44 1343.49)" font-size="100" font-family="'Liberation Sans', sans-serif" fill="#0c0c0c" stroke="#0c0c0c" stroke-width="1.5" stroke-linejoin="miter" stroke-miterlimit="3" vector-effect="non-scaling-stroke">*</text>
<text transform="matrix(0.2304 0 0 0.2560 967.13 1084.55)" font-size="100" font-family="'Liberation Sans', sans-serif" font-weight="bold" fill="#0c0c0c" stroke="#0c0c0c" stroke-width="1.9" stroke-linejoin="miter" stroke-miterlimit="3" vector-effect="non-scaling-stroke" letter-spacing="4.48">0.2</text>
<text transform="matrix(0.2113 0 0 0.2560 1005.43 1084.95)" font-size="100" font-family="'Liberation Sans', sans-serif" font-weight="bold" fill="#0c0c0c" stroke="#0c0c0c" stroke-width="1.9" stroke-linejoin="miter" stroke-miterlimit="3" vector-effect="non-scaling-stroke">pM</text>
<text transform="matrix(0.2240 0 0 0.2421 1069.05 1084.57)" font-size="100" font-family="'Liberation Sans', sans-serif" font-weight="bold" fill="#0c0c0c" stroke="#0c0c0c" stroke-width="1.9" stroke-linejoin="miter" stroke-miterlimit="3" vector-effect="non-scaling-stroke">2</text>
<text transform="matrix(0.2113 0 0 0.2418 1085.73 1084.95)" font-size="100" font-family="'Liberation Sans', sans-serif" font-weight="bold" fill="#0c0c0c" stroke="#0c0c0c" stroke-width="1.9" stroke-linejoin="miter" stroke-miterlimit="3" vector-effect="non-scaling-stroke">pM</text>
<text transform="matrix(0.2154 0 0 0.2393 1173.08 1083.98)" font-size="100" font-family="'Liberation Sans', sans-serif" font-weight="bold" fill="#0c0c0c" stroke="#0c0c0c" stroke-width="1.9" stroke-linejoin="miter" stroke-miterlimit="3" vector-effect="non-scaling-stroke" letter-spacing="12.49">20</text>
<text transform="matrix(0.2001 0 0 0.2389 1203.30 1084.35)" font-size="100" font-family="'Liberation Sans', sans-serif" font-weight="bold" fill="#0c0c0c" stroke="#0c0c0c" stroke-width="1.9" stroke-linejoin="miter" stroke-miterlimit="3" vector-effect="non-scaling-stroke">pM</text>
<text transform="matrix(0.2254 0 0 0.2504 1258.75 1086.26)" font-size="100" font-family="'Liberation Sans', sans-serif" font-weight="bold" fill="#0c0c0c" stroke="#0c0c0c" stroke-width="1.9" stroke-linejoin="miter" stroke-miterlimit="3" vector-effect="non-scaling-stroke" letter-spacing="5.79">200</text>
<text transform="matrix(0.2068 0 0 0.2503 1307.66 1086.65)" font-size="100" font-family="'Liberation Sans', sans-serif" font-weight="bold" fill="#0c0c0c" stroke="#0c0c0c" stroke-width="1.9" stroke-linejoin="miter" stroke-miterlimit="3" vector-effect="non-scaling-stroke">pM</text>
<text transform="matrix(0.2204 0 0 0.2449 1372.16 1088.47)" font-size="100" font-family="'Liberation Sans', sans-serif" font-weight="bold" fill="#0c0c0c" stroke="#0c0c0c" stroke-width="1.9" stroke-linejoin="miter" stroke-miterlimit="3" vector-effect="non-scaling-stroke" letter-spacing="14">2000</text>
<text transform="matrix(0.2181 0 0 0.2446 1434.59 1088.85)" font-size="100" font-family="'Liberation Sans', sans-serif" font-weight="bold" fill="#0c0c0c" stroke="#0c0c0c" stroke-width="1.9" stroke-linejoin="miter" stroke-miterlimit="3" vector-effect="non-scaling-stroke">pM</text>
<text transform="matrix(0.2220 0 0 0.2240 1048.76 997.50)" font-size="100" font-family="'Liberation Sans', sans-serif" font-weight="bold" fill="#0c0c0c" stroke="#0c0c0c" stroke-width="1.9" stroke-linejoin="miter" stroke-miterlimit="3" vector-effect="non-scaling-stroke">6</text>
<text transform="matrix(0.3163 0 -0.0744 0.4656 1059.45 1010.44)" font-size="100" font-family="'Liberation Sans', sans-serif" font-weight="bold" fill="#0c0c0c" stroke="#0c0c0c" stroke-width="0.5" vector-effect="non-scaling-stroke">′</text>
<clipPath id="one68" clipPathUnits="userSpaceOnUse"><rect x="-20" y="-120" width="60.01" height="102.73"/><rect x="20.4" y="-17.77" width="19.61" height="20.38"/></clipPath>
<text transform="matrix(0.2647 0 0 0.2688 1310.09 1002.00)" font-size="100" font-family="'Liberation Sans', sans-serif" font-weight="bold" fill="#0c0c0c" stroke="#0c0c0c" stroke-width="1.4" stroke-linejoin="miter" stroke-miterlimit="3" vector-effect="non-scaling-stroke" clip-path="url(#one68)">1</text>
<clipPath id="one69" clipPathUnits="userSpaceOnUse"><rect x="-20" y="-120" width="60.14" height="102.73"/><rect x="20.26" y="-17.77" width="19.89" height="20.38"/></clipPath>
<text transform="matrix(0.2515 0 0 0.2688 1325.68 1002.00)" font-size="100" font-family="'Liberation Sans', sans-serif" font-weight="bold" fill="#0c0c0c" stroke="#0c0c0c" stroke-width="1.4" stroke-linejoin="miter" stroke-miterlimit="3" vector-effect="non-scaling-stroke" clip-path="url(#one69)">1</text>
<text transform="matrix(0.3163 0 -0.0941 0.4735 1334.20 1012.78)" font-size="100" font-family="'Liberation Sans', sans-serif" font-weight="bold" fill="#0c0c0c" stroke="#0c0c0c" stroke-width="0.5" vector-effect="non-scaling-stroke">′</text>
<text transform="matrix(0.2095 0 0 0.2268 971.02 1135.50)" font-size="100" font-family="'Liberation Sans', sans-serif" font-weight="bold" fill="#0c0c0c" stroke="#0c0c0c" stroke-width="1.9" stroke-linejoin="miter" stroke-miterlimit="3" vector-effect="non-scaling-stroke">5</text>
<text transform="matrix(0.3163 0 -0.0744 0.4262 980.65 1144.12)" font-size="100" font-family="'Liberation Sans', sans-serif" font-weight="bold" fill="#0c0c0c" stroke="#0c0c0c" stroke-width="0.5" vector-effect="non-scaling-stroke">′</text>
<text transform="matrix(0.2036 0 0 0.2087 1078.03 1137.22)" font-size="100" font-family="'Liberation Sans', sans-serif" font-weight="bold" fill="#0c0c0c" stroke="#0c0c0c" stroke-width="1.9" stroke-linejoin="miter" stroke-miterlimit="3" vector-effect="non-scaling-stroke">5</text>
<text transform="matrix(0.3163 0 -0.0744 0.4262 1089.25 1146.62)" font-size="100" font-family="'Liberation Sans', sans-serif" font-weight="bold" fill="#0c0c0c" stroke="#0c0c0c" stroke-width="0.5" vector-effect="non-scaling-stroke">′</text>
<text transform="matrix(0.2269 0 0 0.2254 1190.60 1137.40)" font-size="100" font-family="'Liberation Sans', sans-serif" font-weight="bold" fill="#0c0c0c" stroke="#0c0c0c" stroke-width="1.9" stroke-linejoin="miter" stroke-miterlimit="3" vector-effect="non-scaling-stroke">5</text>
<text transform="matrix(0.3163 0 -0.0665 0.5406 1202.40 1153.19)" font-size="100" font-family="'Liberation Sans', sans-serif" font-weight="bold" fill="#0c0c0c" stroke="#0c0c0c" stroke-width="0.5" vector-effect="non-scaling-stroke">′</text>
<text transform="matrix(0.2269 0 0 0.2240 1299.60 1136.60)" font-size="100" font-family="'Liberation Sans', sans-serif" font-weight="bold" fill="#0c0c0c" stroke="#0c0c0c" stroke-width="1.9" stroke-linejoin="miter" stroke-miterlimit="3" vector-effect="non-scaling-stroke">3</text>
<text transform="matrix(0.3163 0 -0.1020 0.5051 1311.25 1150.85)" font-size="100" font-family="'Liberation Sans', sans-serif" font-weight="bold" fill="#0c0c0c" stroke="#0c0c0c" stroke-width="0.5" vector-effect="non-scaling-stroke">′</text>
<text transform="matrix(0.2320 0 0 0.2190 1414.23 1135.45)" font-size="100" font-family="'Liberation Sans', sans-serif" font-weight="bold" fill="#0c0c0c" stroke="#0c0c0c" stroke-width="1.9" stroke-linejoin="miter" stroke-miterlimit="3" vector-effect="non-scaling-stroke">2</text>
<text transform="matrix(0.3163 0 -0.0744 0.5367 1427.45 1151.52)" font-size="100" font-family="'Liberation Sans', sans-serif" font-weight="bold" fill="#0c0c0c" stroke="#0c0c0c" stroke-width="0.5" vector-effect="non-scaling-stroke">′</text>
<text transform="matrix(0.2432 0 0 0.2432 957.09 1282.85)" font-size="100" font-family="'Liberation Sans', sans-serif" font-weight="bold" fill="#0c0c0c" stroke="#0c0c0c" stroke-width="1.9" stroke-linejoin="miter" stroke-miterlimit="3" vector-effect="non-scaling-stroke" letter-spacing="4.09">20</text>
<text transform="matrix(0.3163 0 -0.1375 0.5011 981.31 1297.88)" font-size="100" font-family="'Liberation Sans', sans-serif" font-weight="bold" fill="#0c0c0c" stroke="#0c0c0c" stroke-width="0.5" vector-effect="non-scaling-stroke">′</text>
<text transform="matrix(0.2532 0 0 0.2532 1069.06 1284.25)" font-size="100" font-family="'Liberation Sans', sans-serif" font-weight="bold" fill="#0c0c0c" stroke="#0c0c0c" stroke-width="1.9" stroke-linejoin="miter" stroke-miterlimit="3" vector-effect="non-scaling-stroke" letter-spacing="-0.16">20</text>
<text transform="matrix(0.3163 0 -0.1375 0.5011 1091.91 1298.58)" font-size="100" font-family="'Liberation Sans', sans-serif" font-weight="bold" fill="#0c0c0c" stroke="#0c0c0c" stroke-width="0.5" vector-effect="non-scaling-stroke">′</text>
<text transform="matrix(0.2532 0 0 0.2532 1186.76 1287.05)" font-size="100" font-family="'Liberation Sans', sans-serif" font-weight="bold" fill="#0c0c0c" stroke="#0c0c0c" stroke-width="1.9" stroke-linejoin="miter" stroke-miterlimit="3" vector-effect="non-scaling-stroke" letter-spacing="2.6">20</text>
<text transform="matrix(0.3163 0 -0.1336 0.4459 1211.18 1297.58)" font-size="100" font-family="'Liberation Sans', sans-serif" font-weight="bold" fill="#0c0c0c" stroke="#0c0c0c" stroke-width="0.5" vector-effect="non-scaling-stroke">′</text>
<clipPath id="one87" clipPathUnits="userSpaceOnUse"><rect x="-20" y="-120" width="60.14" height="102.41"/><rect x="20.26" y="-18.09" width="19.89" height="20.81"/></clipPath>
<text transform="matrix(0.2515 0 0 0.2574 1311.18 1286.10)" font-size="100" font-family="'Liberation Sans', sans-serif" font-weight="bold" fill="#0c0c0c" stroke="#0c0c0c" stroke-width="1.4" stroke-linejoin="miter" stroke-miterlimit="3" vector-effect="non-scaling-stroke" clip-path="url(#one87)">1</text>
<text transform="matrix(0.3163 0 -0.1297 0.4420 1319.15 1296.61)" font-size="100" font-family="'Liberation Sans', sans-serif" font-weight="bold" fill="#0c0c0c" stroke="#0c0c0c" stroke-width="0.5" vector-effect="non-scaling-stroke">′</text>
<text transform="matrix(0.2114 0 0 0.2504 1410.92 1284.76)" font-size="100" font-family="'Liberation Sans', sans-serif" font-weight="bold" fill="#0c0c0c" stroke="#0c0c0c" stroke-width="1.9" stroke-linejoin="miter" stroke-miterlimit="3" vector-effect="non-scaling-stroke">3</text>
<text transform="matrix(0.3163 0 -0.1020 0.4459 1420.35 1296.08)" font-size="100" font-family="'Liberation Sans', sans-serif" font-weight="bold" fill="#0c0c0c" stroke="#0c0c0c" stroke-width="0.5" vector-effect="non-scaling-stroke">′</text>
<clipPath id="one91" clipPathUnits="userSpaceOnUse"><rect x="-20" y="-120" width="59.79" height="101.65"/><rect x="20.61" y="-18.85" width="19.18" height="21.85"/></clipPath>
<text transform="matrix(0.2878 0 0 0.2332 955.23 1407.60)" font-size="100" font-family="'Liberation Sans', sans-serif" font-weight="bold" fill="#0c0c0c" stroke="#0c0c0c" stroke-width="1.4" stroke-linejoin="miter" stroke-miterlimit="3" vector-effect="non-scaling-stroke" clip-path="url(#one91)">1</text>
<text transform="matrix(0.3163 0 -0.0586 0.4064 967.14 1417.46)" font-size="100" font-family="'Liberation Sans', sans-serif" font-weight="bold" fill="#0c0c0c" stroke="#0c0c0c" stroke-width="0.5" vector-effect="non-scaling-stroke">′</text>
<text transform="matrix(0.2375 0 0 0.2375 1042.51 1409.15)" font-size="100" font-family="'Liberation Sans', sans-serif" font-weight="bold" fill="#0c0c0c" stroke="#0c0c0c" stroke-width="1.9" stroke-linejoin="miter" stroke-miterlimit="3" vector-effect="non-scaling-stroke" letter-spacing="8.06">25</text>
<text transform="matrix(0.3163 0 -0.0586 0.4064 1071.54 1418.46)" font-size="100" font-family="'Liberation Sans', sans-serif" font-weight="bold" fill="#0c0c0c" stroke="#0c0c0c" stroke-width="0.5" vector-effect="non-scaling-stroke">′</text>
<text transform="matrix(0.2300 0 0 0.2375 1188.23 1408.15)" font-size="100" font-family="'Liberation Sans', sans-serif" font-weight="bold" fill="#0c0c0c" stroke="#0c0c0c" stroke-width="1.9" stroke-linejoin="miter" stroke-miterlimit="3" vector-effect="non-scaling-stroke">2</text>
<text transform="matrix(0.3163 0 -0.1020 0.4104 1199.75 1416.63)" font-size="100" font-family="'Liberation Sans', sans-serif" font-weight="bold" fill="#0c0c0c" stroke="#0c0c0c" stroke-width="0.5" vector-effect="non-scaling-stroke">′</text>
<text transform="matrix(0.2230 0 0 0.2323 1335.30 1409.89)" font-size="100" font-family="'Liberation Sans', sans-serif" font-weight="bold" fill="#0c0c0c" stroke="#0c0c0c" stroke-width="1.9" stroke-linejoin="miter" stroke-miterlimit="3" vector-effect="non-scaling-stroke">5</text>
<text transform="matrix(0.3163 0 -0.0586 0.4104 1348.44 1419.73)" font-size="100" font-family="'Liberation Sans', sans-serif" font-weight="bold" fill="#0c0c0c" stroke="#0c0c0c" stroke-width="0.5" vector-effect="non-scaling-stroke">′</text>
<text transform="matrix(0.1920 0 0 0.2407 1448.75 1459.67)" font-size="100" font-family="'Liberation Sans', sans-serif" font-weight="bold" fill="#0c0c0c" stroke="#0c0c0c" stroke-width="1.9" stroke-linejoin="miter" stroke-miterlimit="3" vector-effect="non-scaling-stroke">5</text>
<text transform="matrix(0.2095 0 0 0.2521 1467.14 1459.04)" font-size="100" font-family="'Liberation Sans', sans-serif" font-weight="bold" fill="#0c0c0c" stroke="#0c0c0c" stroke-width="1.9" stroke-linejoin="miter" stroke-miterlimit="3" vector-effect="non-scaling-stroke">p</text>
<text transform="matrix(0.1731 0 0 0.2873 1484.83 1459.00)" font-size="100" font-family="'Liberation Sans', sans-serif" font-weight="bold" fill="#0c0c0c" stroke="#0c0c0c" stroke-width="2" stroke-linejoin="miter" stroke-miterlimit="3" vector-effect="non-scaling-stroke">A</text>
<clipPath id="one102" clipPathUnits="userSpaceOnUse"><rect x="-20" y="-120" width="60" height="102.38"/><rect x="20.4" y="-18.12" width="19.59" height="20.97"/></clipPath>
<text transform="matrix(0.2845 0 0 0.2631 1400.40 1497.75)" font-size="100" font-family="'Liberation Sans', sans-serif" font-weight="bold" fill="#0c0c0c" stroke="#0c0c0c" stroke-width="1.5" stroke-linejoin="miter" stroke-miterlimit="3" vector-effect="non-scaling-stroke" clip-path="url(#one102)">1</text>
<text transform="matrix(0.2209 0 0 0.2574 1414.26 1497.45)" font-size="100" font-family="'Liberation Sans', sans-serif" font-weight="bold" fill="#0c0c0c" stroke="#0c0c0c" stroke-width="1.9" stroke-linejoin="miter" stroke-miterlimit="3" vector-effect="non-scaling-stroke">0</text>
<text transform="matrix(0.2611 0 0 0.2720 1435.23 1498.22)" font-size="100" font-family="'Liberation Sans', sans-serif" font-weight="bold" fill="#0c0c0c" stroke="#0c0c0c" stroke-width="1.9" stroke-linejoin="miter" stroke-miterlimit="3" vector-effect="non-scaling-stroke">sec</text>
<line x1="925.5" y1="952.6" x2="925.5" y2="986.6" stroke="#0c0c0c" stroke-width="5.6" stroke-linecap="butt"/>
<polygon points="917.2,982.1 925.5,985.1 933.8,982.1 925.5,997.7" fill="#0c0c0c" stroke="none" stroke-width="0" stroke-linejoin="miter"/>
<line x1="922.3" y1="1090.1" x2="922.3" y2="1122.2" stroke="#0c0c0c" stroke-width="5.6" stroke-linecap="butt"/>
<polygon points="914,1117.7 922.3,1120.7 930.6,1117.7 922.3,1133.3" fill="#0c0c0c" stroke="none" stroke-width="0" stroke-linejoin="miter"/>
<line x1="922.3" y1="1239.2" x2="922.3" y2="1272.2" stroke="#0c0c0c" stroke-width="5.6" stroke-linecap="butt"/>
<polygon points="914,1267.7 922.3,1270.7 930.6,1267.7 922.3,1283.3" fill="#0c0c0c" stroke="none" stroke-width="0" stroke-linejoin="miter"/>
<line x1="1028.4" y1="1240" x2="1028.4" y2="1274" stroke="#0c0c0c" stroke-width="5.6" stroke-linecap="butt"/>
<polygon points="1020.1,1269.5 1028.4,1272.5 1036.7,1269.5 1028.4,1285.2" fill="#0c0c0c" stroke="none" stroke-width="0" stroke-linejoin="miter"/>
<line x1="1150.5" y1="1241" x2="1150.5" y2="1275" stroke="#0c0c0c" stroke-width="5.6" stroke-linecap="butt"/>
<polygon points="1142.2,1270.5 1150.5,1273.5 1158.8,1270.5 1150.5,1287.1" fill="#0c0c0c" stroke="none" stroke-width="0" stroke-linejoin="miter"/>
<line x1="1266" y1="1242" x2="1266" y2="1277" stroke="#0c0c0c" stroke-width="5.6" stroke-linecap="butt"/>
<polygon points="1257.7,1272.5 1266,1275.5 1274.3,1272.5 1266,1289" fill="#0c0c0c" stroke="none" stroke-width="0" stroke-linejoin="miter"/>
<line x1="922.3" y1="1364.2" x2="922.3" y2="1397.2" stroke="#0c0c0c" stroke-width="5.6" stroke-linecap="butt"/>
<polygon points="914,1392.7 922.3,1395.7 930.6,1392.7 922.3,1408.3" fill="#0c0c0c" stroke="none" stroke-width="0" stroke-linejoin="miter"/>
<line x1="1114.7" y1="1363.4" x2="1114.7" y2="1397.4" stroke="#0c0c0c" stroke-width="5.6" stroke-linecap="butt"/>
<polygon points="1106.4,1392.9 1114.7,1395.9 1123,1392.9 1114.7,1408.9" fill="#0c0c0c" stroke="none" stroke-width="0" stroke-linejoin="miter"/>
<path d="M765.8,1004.5 L832.5,1004.5 L832.5,1008.06 L830.84,1008.06 L830.84,1008.44 L829.28,1008.44 L829.28,1008.11 L827.59,1008.11 L827.59,1007.85 L825.98,1007.85 L825.98,1008.2 L824.1,1008.2 L824.1,1007.78 L822.69,1007.78 L822.69,1007.77 L820.79,1007.77 L820.79,1008.25 L819.63,1008.25 L819.63,1008.49 L817.58,1008.49 L817.58,1008.22 L815.87,1008.22 L815.87,1007.83 L814.74,1007.83 L814.74,1008.12 L813.56,1008.12 L813.56,1007.85 L812.21,1007.85 L812.21,1007.72 L810.64,1007.72 L810.64,1008.05 L808.72,1008.05 L808.72,1008.12 L806.98,1008.12 L806.98,1008.1 L805.22,1008.1 L805.22,1008.07 L803.84,1008.07 L803.84,1008.5 L801.76,1008.5 L801.76,1008.37 L799.96,1008.37 L799.96,1007.95 L798.62,1007.95 L798.62,1007.93 L797.43,1007.93 L797.43,1008.31 L795.93,1008.31 L795.93,1008.38 L794.44,1008.38 L794.44,1008.47 L792.51,1008.47 L792.51,1007.7 L791.18,1007.7 L791.18,1008.43 L789.61,1008.43 L789.61,1008.48 L788.11,1008.48 L788.11,1007.76 L786.39,1007.76 L786.39,1008.32 L785.01,1008.32 L785.01,1007.77 L783.57,1007.77 L783.57,1008.47 L781.72,1008.47 L781.72,1007.79 L780.36,1007.79 L780.36,1007.78 L779.19,1007.78 L779.19,1008.34 L777.9,1008.34 L777.9,1008.15 L776.35,1008.15 L776.35,1007.85 L774.52,1007.85 L774.52,1007.8 L772.79,1007.8 L772.79,1007.79 L771.26,1007.79 L771.26,1007.87 L769.88,1007.87 L769.88,1008.48 L767.99,1008.48 L767.99,1007.94 L766.02,1007.94 L766.02,1007.87 L765.8,1007.87 Z M766.91,1005 L769.11,1005 L768.72,1010.97 L766.73,1010.97 Z M768.55,1005 L771.21,1005 L770.1,1011.5 L768.8,1011.5 Z M769.83,1005 L772.32,1005 L771.75,1010.73 L770.15,1010.73 Z M773.37,1005 L776.33,1005 L776,1012.32 L774.43,1012.32 Z M774.2,1005 L778.02,1005 L776.77,1009.31 L774.95,1009.31 Z M775.49,1005 L779.37,1005 L778.47,1011.36 L777.28,1011.36 Z M789.37,1005 L792.21,1005 L790.88,1010.82 L789.78,1010.82 Z M809.64,1005 L813.05,1005 L812.3,1009.54 L811.04,1009.54 Z M815.84,1005 L818.19,1005 L817.45,1009.71 L815.73,1009.71 Z M816.78,1005 L820.49,1005 L819.22,1010.64 L817.61,1010.64 Z" fill="#0c0c0c" fill-rule="nonzero"/>
<path d="M844.3,1004.6 L909.5,1004.6 L909.5,1007.77 L905.12,1007.77 L905.12,1007.83 L901.98,1007.83 L901.98,1007.6 L898.28,1007.6 L898.28,1007.7 L893.54,1007.7 L893.54,1007.84 L889.29,1007.84 L889.29,1007.8 L884.9,1007.8 L884.9,1007.65 L881.05,1007.65 L881.05,1007.66 L876.07,1007.66 L876.07,1007.62 L871.31,1007.62 L871.31,1007.63 L866.86,1007.63 L866.86,1007.72 L863.09,1007.72 L863.09,1007.89 L860.24,1007.89 L860.24,1007.62 L855.25,1007.62 L855.25,1007.78 L852.23,1007.78 L852.23,1007.95 L847.16,1007.95 L847.16,1007.64 L844.3,1007.64 Z" fill="#0c0c0c" fill-rule="nonzero"/>
<path d="M921.3,1004.7 L1183.3,1005.3 L1183.3,1015.97 L1181.52,1015.96 L1181.52,1017.87 L1179.59,1017.87 L1179.59,1015.63 L1178.25,1015.62 L1178.25,1015.45 L1176.91,1015.45 L1176.91,1018.09 L1175.66,1018.09 L1175.66,1017.17 L1174.34,1017.17 L1174.34,1016.11 L1172.8,1016.1 L1172.8,1018.55 L1171.1,1018.54 L1171.1,1014.84 L1169.72,1014.83 L1169.72,1015.43 L1167.76,1015.42 L1167.76,1018.41 L1165.87,1018.4 L1165.87,1018.48 L1164.03,1018.47 L1164.03,1019.03 L1162.15,1019.02 L1162.15,1015.91 L1160.21,1015.9 L1160.21,1016.94 L1158.37,1016.93 L1158.37,1017.28 L1156.84,1017.28 L1156.84,1016.38 L1155.3,1016.37 L1155.3,1016.15 L1154.07,1016.14 L1154.07,1018.42 L1152.18,1018.42 L1152.18,1019.16 L1150.4,1019.16 L1150.4,1017.22 L1148.56,1017.21 L1148.56,1015.33 L1146.79,1015.32 L1146.79,1016.71 L1145.5,1016.71 L1145.5,1015.63 L1143.88,1015.62 L1143.88,1015.85 L1142.32,1015.85 L1142.32,1017.43 L1140.82,1017.43 L1140.82,1015.29 L1139.23,1015.29 L1139.23,1015.76 L1137.88,1015.76 L1137.88,1015.57 L1136.41,1015.57 L1136.41,1015.02 L1134.67,1015.02 L1134.67,1018.98 L1133.17,1018.98 L1133.17,1017.92 L1131.16,1017.92 L1131.16,1014.88 L1129.9,1014.87 L1129.9,1018.31 L1127.98,1018.3 L1127.98,1017.55 L1126.7,1017.55 L1126.7,1016.53 L1124.75,1016.53 L1124.75,1018.65 L1122.86,1018.65 L1122.86,1015.58 L1120.92,1015.57 L1120.92,1016.34 L1119.11,1016.34 L1119.11,1015.27 L1117.06,1015.26 L1117.06,1017.36 L1115.24,1017.36 L1115.24,1015.6 L1113.53,1015.59 L1113.53,1017.25 L1111.84,1017.25 L1111.84,1016.25 L1110.02,1016.25 L1110.02,1016.17 L1108.62,1016.16 L1108.62,1015.37 L1106.84,1015.37 L1106.84,1015.13 L1105.51,1015.13 L1105.51,1014.93 L1103.77,1014.93 L1103.77,1017.12 L1102.13,1017.12 L1102.13,1014.79 L1100.59,1014.79 L1100.59,1016.15 L1099.38,1016.15 L1099.38,1014.62 L1097.3,1014.62 L1097.3,1015.15 L1095.89,1015.15 L1095.89,1015.81 L1094.2,1015.81 L1094.2,1014.94 L1092.63,1014.94 L1092.63,1016.24 L1090.7,1016.24 L1090.7,1014.61 L1089.26,1014.61 L1089.26,1016.82 L1087.21,1016.81 L1087.21,1016.91 L1085.64,1016.9 L1085.64,1017.59 L1084.23,1017.59 L1084.23,1014.72 L1082.63,1014.71 L1082.63,1018.67 L1080.8,1018.66 L1080.8,1015.73 L1079.03,1015.72 L1079.03,1018.38 L1077.66,1018.38 L1077.66,1017.2 L1076.2,1017.2 L1076.2,1015.65 L1074.8,1015.65 L1074.8,1015.47 L1073.34,1015.47 L1073.34,1014.72 L1071.84,1014.72 L1071.84,1014.94 L1069.99,1014.93 L1069.99,1017.24 L1068.87,1017.24 L1068.87,1018.02 L1067.57,1018.02 L1067.57,1016.7 L1065.91,1016.69 L1065.91,1016.03 L1064.52,1016.03 L1064.52,1016.49 L1063.27,1016.48 L1063.27,1018.41 L1062.04,1018.41 L1062.04,1018.23 L1060.71,1018.23 L1060.71,1015.88 L1059.22,1015.88 L1059.22,1014.67 L1057.97,1014.66 L1057.97,1016.14 L1056.43,1016.13 L1056.43,1018.45 L1054.36,1018.45 L1054.36,1014.7 L1052.72,1014.7 L1052.72,1015.08 L1050.83,1015.08 L1050.83,1015.95 L1048.86,1015.94 L1048.86,1016.95 L1047.61,1016.94 L1047.61,1014.51 L1046.26,1014.51 L1046.26,1018.39 L1044.99,1018.39 L1044.99,1016.64 L1043.52,1016.64 L1043.52,1016.03 L1041.63,1016.03 L1041.63,1015.44 L1039.82,1015.43 L1039.82,1017.47 L1037.8,1017.47 L1037.8,1016.81 L1035.8,1016.8 L1035.8,1016.44 L1034.12,1016.44 L1034.12,1017.25 L1032.2,1017.25 L1032.2,1018.49 L1030.97,1018.49 L1030.97,1015.07 L1029.34,1015.06 L1029.34,1018.1 L1027.7,1018.1 L1027.7,1015.79 L1025.66,1015.79 L1025.66,1015.78 L1024.46,1015.78 L1024.46,1014.67 L1023.31,1014.67 L1023.31,1017.7 L1022.08,1017.7 L1022.08,1017.65 L1020.13,1017.65 L1020.13,1018.92 L1018.24,1018.92 L1018.24,1016.33 L1016.52,1016.33 L1016.52,1018.17 L1014.71,1018.16 L1014.71,1015.72 L1012.86,1015.72 L1012.86,1014.9 L1011.44,1014.9 L1011.44,1018.89 L1009.87,1018.89 L1009.87,1015.61 L1008,1015.6 L1008,1016.42 L1006.87,1016.42 L1006.87,1014.53 L1005.51,1014.52 L1005.51,1015.89 L1003.49,1015.88 L1003.49,1015.5 L1001.55,1015.5 L1001.55,1018.22 L1000.03,1018.22 L1000.03,1018.85 L998.18,1018.85 L998.18,1016.55 L996.81,1016.55 L996.81,1016.45 L994.82,1016.44 L994.82,1016.78 L993.52,1016.78 L993.52,1016.06 L991.94,1016.05 L991.94,1015.22 L990.27,1015.22 L990.27,1014.51 L988.36,1014.51 L988.36,1015.16 L987.14,1015.16 L987.14,1008.52 L985.73,1008.52 L985.73,1008.76 L984.13,1008.75 L984.13,1008.46 L982.21,1008.46 L982.21,1008.21 L980.37,1008.21 L980.37,1008.55 L978.84,1008.55 L978.84,1008.8 L977.7,1008.8 L977.7,1008.72 L976.44,1008.72 L976.44,1008.7 L975.18,1008.7 L975.18,1008.07 L973.57,1008.06 L973.57,1008.76 L972.21,1008.76 L972.21,1008.41 L970.5,1008.4 L970.5,1008.21 L968.87,1008.2 L968.87,1008.02 L967.32,1008.01 L967.32,1008.61 L965.88,1008.61 L965.88,1008.18 L964.71,1008.18 L964.71,1008.56 L963.18,1008.56 L963.18,1008.73 L961.35,1008.72 L961.35,1008.07 L959.35,1008.07 L959.35,1008.73 L957.45,1008.73 L957.45,1008.65 L955.67,1008.64 L955.67,1008.56 L953.91,1008.55 L953.91,1008.45 L952.54,1008.44 L952.54,1008.08 L950.73,1008.07 L950.73,1008.44 L949.55,1008.44 L949.55,1008.48 L947.85,1008.47 L947.85,1008.37 L945.98,1008.37 L945.98,1008.66 L944.5,1008.65 L944.5,1008.6 L942.9,1008.6 L942.9,1008.41 L941.38,1008.4 L941.38,1008.69 L939.83,1008.69 L939.83,1008.7 L938.39,1008.7 L938.39,1008.48 L936.39,1008.47 L936.39,1008.48 L934.91,1008.48 L934.91,1007.99 L933.33,1007.99 L933.33,1008.26 L931.43,1008.25 L931.43,1008.55 L929.36,1008.55 L929.36,1008.28 L927.85,1008.27 L927.85,1008.37 L926.01,1008.36 L926.01,1007.97 L924.68,1007.97 L924.68,1008.02 L923.25,1008.02 L923.25,1008.14 L921.3,1008.14 Z M921.3,1005.2 L923.51,1005.2 L923.25,1018.93 L922.13,1018.93 Z M922.29,1005.2 L924.54,1005.2 L923.82,1011.23 L922.78,1011.23 Z M924.11,1005.21 L926.14,1005.21 L925.38,1011.53 L923.96,1011.53 Z M925.12,1005.21 L928.88,1005.21 L927.91,1015 L926.51,1015 Z M933.76,1005.23 L937.47,1005.23 L935.71,1017.44 L934.62,1017.44 Z M941.02,1005.25 L944.06,1005.25 L942.95,1014.58 L941.48,1014.58 Z M949.87,1005.27 L952.71,1005.27 L951.64,1013.74 L950.5,1013.74 Z M955.56,1005.28 L959.37,1005.28 L958.27,1014.96 L957.1,1014.96 Z M957.51,1005.29 L959.83,1005.29 L959.89,1015.95 L958.38,1015.95 Z M959.54,1005.29 L961.98,1005.29 L960.96,1017.61 L959.78,1017.61 Z M963.22,1005.3 L966.63,1005.3 L965.52,1011.28 L964.17,1011.28 Z M972.43,1005.32 L975.1,1005.32 L973.88,1012.18 L972.66,1012.18 Z M987.7,1005.36 L990.96,1005.36 L990.65,1020.37 L988.65,1020.37 Z M989.63,1005.36 L992.98,1005.36 L991.93,1023.76 L990.73,1023.76 Z M989.88,1005.36 L995.14,1005.36 L992.98,1020.89 L991.76,1020.89 Z M995.52,1005.37 L998.78,1005.37 L998.19,1028.08 L996.24,1028.08 Z M997.97,1005.38 L1002.96,1005.38 L1001.63,1031 L999.83,1031 Z M1000.2,1005.39 L1005.24,1005.39 L1003.51,1025.42 L1001.69,1025.42 Z M1002,1005.39 L1005.85,1005.39 L1004.52,1028.72 L1002.89,1028.72 Z M1004.08,1005.4 L1009.17,1005.4 L1007.58,1023.55 L1005.78,1023.55 Z M1009.55,1005.41 L1013.89,1005.41 L1012.91,1024.04 L1010.96,1024.04 Z M1014.06,1005.42 L1018.45,1005.42 L1016.82,1030.24 L1015.06,1030.24 Z M1015.33,1005.42 L1019.58,1005.42 L1018.05,1023.98 L1015.95,1023.98 Z M1016.81,1005.42 L1020.96,1005.42 L1019.57,1028.04 L1017.52,1028.04 Z M1021.59,1005.43 L1026.01,1005.43 L1024.33,1023.96 L1023.08,1023.96 Z M1027.01,1005.45 L1031.42,1005.45 L1029.56,1027.99 L1027.94,1027.99 Z M1030.81,1005.46 L1035.62,1005.46 L1034.03,1024.16 L1032.21,1024.16 Z M1037.44,1005.47 L1042.84,1005.47 L1041.25,1020.84 L1039.96,1020.84 Z M1040.42,1005.48 L1045.75,1005.48 L1043.95,1024.2 L1042.24,1024.2 Z M1041.99,1005.48 L1046.58,1005.48 L1044.62,1028.93 L1043.18,1028.93 Z M1043.51,1005.49 L1048.69,1005.49 L1046.47,1030.98 L1044.8,1030.98 Z M1049.57,1005.5 L1054.4,1005.5 L1053.3,1021.5 L1051.6,1021.5 Z M1050.79,1005.5 L1055.59,1005.5 L1053.86,1028.89 L1052.64,1028.89 Z M1051.69,1005.5 L1057.09,1005.5 L1055.31,1027.49 L1053.45,1027.49 Z M1055.39,1005.51 L1059.56,1005.51 L1058.35,1021.98 L1057.04,1021.98 Z M1056.95,1005.51 L1060.4,1005.51 L1059.11,1025.23 L1057.35,1025.23 Z M1057.47,1005.52 L1062.27,1005.52 L1061.09,1026.53 L1059.01,1026.53 Z M1075.73,1005.56 L1080.3,1005.56 L1078.61,1021.01 L1076.77,1021.01 Z M1077.06,1005.56 L1081.37,1005.56 L1080.42,1021.94 L1078.43,1021.94 Z M1079.64,1005.57 L1084.44,1005.57 L1082.57,1020.5 L1080.85,1020.5 Z M1083.36,1005.58 L1087.14,1005.58 L1086.33,1022.01 L1084.68,1022.01 Z M1084.66,1005.58 L1088.24,1005.58 L1087.7,1024.24 L1085.83,1024.24 Z M1085.57,1005.58 L1089.73,1005.58 L1088.13,1027.91 L1086.72,1027.91 Z M1087.97,1005.59 L1092.48,1005.59 L1091.11,1029.16 L1089.9,1029.16 Z M1091.31,1005.59 L1094.92,1005.59 L1094.13,1024.01 L1092.49,1024.01 Z M1091.72,1005.6 L1096.91,1005.6 L1094.71,1021.01 L1093.07,1021.01 Z M1099.74,1005.61 L1103.65,1005.61 L1102.77,1020.79 L1100.95,1020.79 Z M1107.13,1005.63 L1111.55,1005.63 L1110.35,1021.38 L1108.27,1021.38 Z M1111.12,1005.64 L1115.91,1005.64 L1114.44,1024.59 L1112.28,1024.59 Z M1115.36,1005.65 L1120.58,1005.65 L1119.31,1023.16 L1117.35,1023.16 Z M1122.18,1005.67 L1127.56,1005.67 L1125.62,1026.28 L1124.27,1026.28 Z M1123.71,1005.67 L1128.43,1005.67 L1127.13,1026.12 L1125.64,1026.12 Z M1126.13,1005.67 L1129.61,1005.67 L1128.65,1021.63 L1126.87,1021.63 Z M1126.35,1005.68 L1131.79,1005.68 L1130.09,1022.75 L1128.42,1022.75 Z M1128.66,1005.68 L1133.19,1005.68 L1131.25,1020.57 L1129.84,1020.57 Z M1132.61,1005.69 L1135.64,1005.69 L1134.72,1027.4 L1132.57,1027.4 Z M1132.83,1005.69 L1137.82,1005.69 L1136.54,1023.02 L1134.6,1023.02 Z M1135.53,1005.69 L1138.86,1005.69 L1137.83,1030.84 L1135.67,1030.84 Z M1135.93,1005.7 L1140.86,1005.7 L1139.08,1028.47 L1137.21,1028.47 Z M1143.36,1005.71 L1146.87,1005.71 L1146.25,1025.28 L1144.96,1025.28 Z M1144.37,1005.72 L1148.26,1005.72 L1147.69,1021.89 L1145.6,1021.89 Z M1150.95,1005.73 L1153.97,1005.73 L1153.12,1026.82 L1151.18,1026.82 Z M1160.69,1005.75 L1163.85,1005.75 L1162.98,1031.79 L1161.05,1031.79 Z M1161.42,1005.75 L1165.52,1005.75 L1164.28,1030.34 L1162.78,1030.34 Z M1162.36,1005.76 L1166.98,1005.76 L1165.33,1024.19 L1163.26,1024.19 Z M1170.39,1005.77 L1173.9,1005.77 L1172.58,1020.92 L1171.05,1020.92 Z M1171.35,1005.78 L1175.34,1005.78 L1174.05,1027.21 L1172.66,1027.21 Z M1171.84,1005.78 L1177.25,1005.78 L1175.3,1027.57 L1173.63,1027.57 Z M1174.22,1005.78 L1178.26,1005.78 L1176.72,1023.54 L1175.35,1023.54 Z M1178.56,1005.79 L1181.73,1005.79 L1181.16,1024.91 L1179.82,1024.91 Z M1179.33,1005.8 L1183.3,1005.8 L1182.37,1029.72 L1180.54,1029.72 Z" fill="#0c0c0c" fill-rule="nonzero"/>
<path d="M1197.4,1005.3 L1461.4,1006.3 L1461.4,1018.94 L1459.61,1018.93 L1459.61,1022.21 L1457.58,1022.2 L1457.58,1019.91 L1456.22,1019.91 L1456.22,1022.68 L1454.47,1022.68 L1454.47,1020.09 L1452.69,1020.08 L1452.69,1020.65 L1450.82,1020.64 L1450.82,1018.97 L1449.49,1018.97 L1449.49,1023.66 L1448.02,1023.66 L1448.02,1019.81 L1446.13,1019.8 L1446.13,1022.03 L1444.87,1022.03 L1444.87,1021.55 L1443.11,1021.54 L1443.11,1019.22 L1441.36,1019.21 L1441.36,1018.96 L1439.92,1018.96 L1439.92,1018.72 L1438.61,1018.71 L1438.61,1024.08 L1437.1,1024.08 L1437.1,1024.15 L1435.56,1024.14 L1435.56,1021.85 L1433.6,1021.84 L1433.6,1022.32 L1432.37,1022.31 L1432.37,1021.72 L1430.64,1021.72 L1430.64,1019.27 L1429.43,1019.27 L1429.43,1023.43 L1427.82,1023.42 L1427.82,1019.34 L1426.26,1019.33 L1426.26,1019.48 L1424.38,1019.47 L1424.38,1021.16 L1423.16,1021.16 L1423.16,1023.06 L1421.95,1023.06 L1421.95,1019.83 L1420.81,1019.83 L1420.81,1022.59 L1419.58,1022.58 L1419.58,1021.3 L1418.37,1021.29 L1418.37,1021.02 L1416.59,1021.01 L1416.59,1021.34 L1415.03,1021.33 L1415.03,1021.03 L1413.49,1021.03 L1413.49,1021.69 L1412.28,1021.69 L1412.28,1020.96 L1410.94,1020.96 L1410.94,1023.3 L1408.91,1023.29 L1408.91,1018.5 L1407.66,1018.5 L1407.66,1022.32 L1405.99,1022.31 L1405.99,1018.2 L1404.19,1018.2 L1404.19,1023.75 L1402.67,1023.74 L1402.67,1020.16 L1401,1020.16 L1401,1023.71 L1399.63,1023.7 L1399.63,1019.88 L1398.32,1019.87 L1398.32,1021.83 L1396.75,1021.83 L1396.75,1019.59 L1395.26,1019.59 L1395.26,1018.26 L1393.84,1018.25 L1393.84,1023.94 L1392.16,1023.94 L1392.16,1019.73 L1390.14,1019.73 L1390.14,1020.18 L1388.78,1020.17 L1388.78,1018.24 L1387.52,1018.23 L1387.52,1019.21 L1386.18,1019.21 L1386.18,1023.25 L1384.8,1023.25 L1384.8,1019.5 L1383.1,1019.5 L1383.1,1023.51 L1381.7,1023.5 L1381.7,1022.57 L1380.23,1022.56 L1380.23,1021.36 L1378.54,1021.35 L1378.54,1023.64 L1376.69,1023.63 L1376.69,1021.03 L1374.76,1021.02 L1374.76,1020.17 L1373.28,1020.17 L1373.28,1023.73 L1371.63,1023.72 L1371.63,1022.6 L1370.21,1022.6 L1370.21,1023.45 L1368.5,1023.44 L1368.5,1019.43 L1366.48,1019.42 L1366.48,1020.75 L1365.04,1020.75 L1365.04,1019.51 L1363.82,1019.51 L1363.82,1019.13 L1362.04,1019.13 L1362.04,1018.77 L1360.67,1018.76 L1360.67,1020.6 L1359.02,1020.6 L1359.02,1020.2 L1357.15,1020.19 L1357.15,1019.45 L1355.68,1019.44 L1355.68,1020.45 L1354.43,1020.44 L1354.43,1019.23 L1353.17,1019.22 L1353.17,1022.24 L1351.91,1022.24 L1351.91,1021.89 L1350.58,1021.89 L1350.58,1021.76 L1348.83,1021.76 L1348.83,1019.99 L1346.81,1019.99 L1346.81,1021.81 L1345.16,1021.8 L1345.16,1018.14 L1343.65,1018.13 L1343.65,1019.45 L1342.08,1019.44 L1342.08,1023.45 L1340.13,1023.44 L1340.13,1018.21 L1338.35,1018.21 L1338.35,1023.44 L1336.71,1023.43 L1336.71,1018.41 L1334.76,1018.4 L1334.76,1020.38 L1332.7,1020.37 L1332.7,1023.06 L1330.78,1023.05 L1330.78,1023.39 L1329.6,1023.39 L1329.6,1020.37 L1328.19,1020.37 L1328.19,1017.4 L1326.7,1017.4 L1326.7,1019.44 L1325.58,1019.44 L1325.58,1018.81 L1323.7,1018.8 L1323.7,1019.01 L1322.08,1019 L1322.08,1018.11 L1320.02,1018.1 L1320.02,1017.88 L1318.25,1017.87 L1318.25,1019.66 L1317.13,1019.66 L1317.13,1021.24 L1315.78,1021.23 L1315.78,1021.2 L1313.77,1021.19 L1313.77,1020.8 L1311.83,1020.79 L1311.83,1018.52 L1310.28,1018.52 L1310.28,1018.28 L1308.27,1018.28 L1308.27,1016.85 L1307.01,1016.85 L1307.01,1021.02 L1305.12,1021.01 L1305.12,1019.89 L1303.07,1019.88 L1303.07,1019.06 L1301.15,1019.05 L1301.15,1018.69 L1299.16,1018.68 L1299.16,1017 L1297.62,1016.99 L1297.62,1019.28 L1295.74,1019.27 L1295.74,1018.57 L1293.97,1018.57 L1293.97,1021.02 L1292.45,1021.02 L1292.45,1017.56 L1291.3,1017.55 L1291.3,1020.53 L1289.72,1020.53 L1289.72,1018.4 L1288.1,1018.39 L1288.1,1017.19 L1286.77,1017.18 L1286.77,1017.7 L1285.4,1017.69 L1285.4,1020.5 L1284.05,1020.5 L1284.05,1017.04 L1282.09,1017.03 L1282.09,1019.13 L1280.95,1019.13 L1280.95,1019.65 L1279.17,1019.65 L1279.17,1019.53 L1277.3,1019.53 L1277.3,1018.51 L1275.97,1018.51 L1275.97,1019.95 L1274.25,1019.94 L1274.25,1019.76 L1272.95,1019.75 L1272.95,1018.26 L1271.17,1018.26 L1271.17,1018.31 L1269.47,1018.3 L1269.47,1018.7 L1267.63,1018.69 L1267.63,1018.13 L1266.03,1018.13 L1266.03,1020.29 L1264.61,1020.28 L1264.61,1017.35 L1262.88,1017.34 L1262.88,1017.15 L1260.94,1017.14 L1260.94,1017.78 L1258.95,1017.77 L1258.95,1018.94 L1257.68,1018.93 L1257.68,1018.87 L1255.9,1018.87 L1255.9,1018.71 L1254.17,1018.7 L1254.17,1018.18 L1252.13,1018.17 L1252.13,1017.29 L1250.25,1017.29 L1250.25,1016.61 L1248.64,1016.6 L1248.64,1016.79 L1247.39,1016.79 L1247.39,1019.14 L1245.41,1019.13 L1245.41,1017.87 L1243.9,1017.87 L1243.9,1018.62 L1242.2,1018.61 L1242.2,1018.05 L1240.74,1018.04 L1240.74,1020.3 L1239.09,1020.3 L1239.09,1018.04 L1237.18,1018.04 L1237.18,1020.95 L1235.65,1020.94 L1235.65,1016.51 L1234.23,1016.51 L1234.23,1020.48 L1232.95,1020.48 L1232.95,1017.33 L1231.07,1017.32 L1231.07,1016.94 L1229.13,1016.93 L1229.13,1017.44 L1227.64,1017.43 L1227.64,1019.09 L1226.41,1019.08 L1226.41,1019.9 L1224.87,1019.89 L1224.87,1019.87 L1223.02,1019.86 L1223.02,1016.74 L1221.11,1016.74 L1221.11,1020.08 L1219.76,1020.08 L1219.76,1019.05 L1218.44,1019.04 L1218.44,1018.8 L1216.6,1018.8 L1216.6,1018.07 L1214.97,1018.06 L1214.97,1016.96 L1213.02,1016.95 L1213.02,1019.18 L1211.1,1019.17 L1211.1,1016.72 L1209.27,1016.71 L1209.27,1016.75 L1207.61,1016.75 L1207.61,1017.38 L1205.63,1017.37 L1205.63,1016.81 L1204.05,1016.8 L1204.05,1018.44 L1202.56,1018.44 L1202.56,1016.61 L1200.8,1016.6 L1200.8,1020.69 L1199.34,1020.68 L1199.34,1020.35 L1197.89,1020.35 L1197.89,1017.53 L1197.4,1017.53 Z M1197.55,1005.81 L1202.14,1005.81 L1200.42,1034.33 L1199.18,1034.33 Z M1199.08,1005.81 L1203.02,1005.81 L1201.37,1021.8 L1199.93,1021.8 Z M1200.78,1005.82 L1206.09,1005.82 L1204.42,1034.41 L1202.3,1034.41 Z M1202.61,1005.83 L1206.66,1005.83 L1205.73,1038.48 L1204.19,1038.48 Z M1204.98,1005.84 L1209.73,1005.84 L1208.08,1038.23 L1205.94,1038.23 Z M1214.55,1005.87 L1219.29,1005.87 L1217.42,1029.48 L1215.92,1029.48 Z M1215.42,1005.88 L1220.82,1005.88 L1218.52,1023.18 L1217.2,1023.18 Z M1219.7,1005.89 L1223.23,1005.89 L1221.93,1023.68 L1220.47,1023.68 Z M1220.34,1005.9 L1224.99,1005.9 L1223.82,1033.57 L1222.31,1033.57 Z M1222.69,1005.91 L1228.11,1005.91 L1226.42,1023.92 L1224.99,1023.92 Z M1228.49,1005.93 L1233.61,1005.93 L1231.86,1021.44 L1230.24,1021.44 Z M1238.97,1005.96 L1242.57,1005.96 L1241.78,1027.87 L1240.53,1027.87 Z M1240.49,1005.97 L1245.1,1005.97 L1244.32,1033.03 L1242.14,1033.03 Z M1249.31,1006.01 L1254.59,1006.01 L1252.32,1028.9 L1250.82,1028.9 Z M1252.63,1006.02 L1258.06,1006.02 L1256.03,1021.7 L1254.51,1021.7 Z M1254.38,1006.02 L1258.72,1006.02 L1257.06,1025.67 L1255.06,1025.67 Z M1255.25,1006.03 L1260.65,1006.03 L1258.71,1024.45 L1257.07,1024.45 Z M1265.2,1006.06 L1269.16,1006.06 L1267.71,1026.8 L1266.11,1026.8 Z M1269.1,1006.08 L1273.37,1006.08 L1272.39,1025.13 L1270.62,1025.13 Z M1273.04,1006.1 L1278.41,1006.1 L1277.24,1028.55 L1275.09,1028.55 Z M1277.95,1006.11 L1281.85,1006.11 L1280.9,1028.07 L1278.84,1028.07 Z M1282.54,1006.13 L1286.45,1006.13 L1285.33,1026.88 L1284.12,1026.88 Z M1283.29,1006.13 L1288.1,1006.13 L1287.16,1028.83 L1285.12,1028.83 Z M1286.67,1006.15 L1291.99,1006.15 L1289.87,1024.36 L1288.61,1024.36 Z M1295.72,1006.18 L1300.2,1006.18 L1298.67,1036.15 L1296.6,1036.15 Z M1296.5,1006.19 L1301.82,1006.19 L1299.61,1025.4 L1298.37,1025.4 Z M1298.94,1006.19 L1304.12,1006.19 L1301.77,1024 L1300.46,1024 Z M1319.68,1006.27 L1323.24,1006.27 L1322.64,1021.83 L1321.03,1021.83 Z M1320.32,1006.28 L1325.33,1006.28 L1324.06,1030.45 L1322.24,1030.45 Z M1322.49,1006.28 L1325.55,1006.28 L1324.57,1029.89 L1322.52,1029.89 Z M1322.94,1006.28 L1327.5,1006.28 L1325.97,1027.78 L1324.75,1027.78 Z M1324.87,1006.29 L1327.97,1006.29 L1327.72,1025.94 L1325.79,1025.94 Z M1329.44,1006.31 L1333.19,1006.31 L1332.81,1028.4 L1330.46,1028.4 Z M1338.11,1006.34 L1343.75,1006.34 L1342.22,1030.22 L1340.21,1030.22 Z M1340.68,1006.35 L1345.17,1006.35 L1343.67,1038.43 L1342.14,1038.43 Z M1342.12,1006.36 L1346.13,1006.36 L1345.13,1035.82 L1343.71,1035.82 Z M1343.31,1006.36 L1349.08,1006.36 L1347.28,1028.34 L1344.96,1028.34 Z M1346.36,1006.37 L1350.43,1006.37 L1349.6,1023.87 L1347.21,1023.87 Z M1360.99,1006.43 L1364.04,1006.43 L1362.73,1024.12 L1361.45,1024.12 Z M1363.78,1006.44 L1369.06,1006.44 L1367.27,1043.63 L1365.34,1043.63 Z M1365.66,1006.45 L1369.85,1006.45 L1368.74,1025.36 L1367.39,1025.36 Z M1367.13,1006.45 L1372.68,1006.45 L1371.06,1029.59 L1369.5,1029.59 Z M1371.02,1006.47 L1375.81,1006.47 L1374.8,1034.89 L1372.84,1034.89 Z M1385.48,1006.52 L1391.36,1006.52 L1389.59,1033.41 L1388.1,1033.41 Z M1392.72,1006.55 L1396.05,1006.55 L1395.4,1035.17 L1393.13,1035.17 Z M1393.96,1006.55 L1397.22,1006.55 L1396.3,1042.8 L1394.33,1042.8 Z M1399.58,1006.57 L1402.9,1006.57 L1402.09,1026.8 L1400.31,1026.8 Z M1403.18,1006.59 L1407.05,1006.59 L1405.94,1027.92 L1404.39,1027.92 Z M1403.59,1006.59 L1409.05,1006.59 L1407.08,1033.53 L1405.06,1033.53 Z M1405.93,1006.6 L1410.34,1006.6 L1408.69,1025.02 L1406.58,1025.02 Z M1409.11,1006.61 L1412.95,1006.61 L1412,1042.09 L1410.42,1042.09 Z M1409.8,1006.61 L1414.65,1006.61 L1412.8,1027.75 L1410.98,1027.75 Z M1410.63,1006.62 L1416.23,1006.62 L1414.33,1032.05 L1412.89,1032.05 Z M1413.41,1006.63 L1417.65,1006.63 L1416.23,1027.91 L1414.04,1027.91 Z M1416.07,1006.63 L1419.4,1006.63 L1418.25,1031.81 L1416.55,1031.81 Z M1416.82,1006.64 L1421.52,1006.64 L1420.62,1024.35 L1418.46,1024.35 Z M1423.97,1006.67 L1429.37,1006.67 L1427.7,1027.5 L1426.07,1027.5 Z M1426.34,1006.68 L1430.54,1006.68 L1429.58,1037.77 L1427.23,1037.77 Z M1430.3,1006.69 L1435.49,1006.69 L1433.53,1026.34 L1432.08,1026.34 Z M1431.86,1006.7 L1436.59,1006.7 L1435.42,1035.98 L1433.89,1035.98 Z M1433.73,1006.7 L1437.12,1006.7 L1435.81,1031.84 L1434.48,1031.84 Z M1440.89,1006.73 L1446.05,1006.73 L1444.76,1024.37 L1442.86,1024.37 Z M1445.86,1006.75 L1451.63,1006.75 L1449.05,1025.56 L1447.68,1025.56 Z M1447.59,1006.76 L1452.31,1006.76 L1450.68,1036.8 L1448.65,1036.8 Z M1448.79,1006.76 L1454.68,1006.76 L1452.88,1028.92 L1451,1028.92 Z M1451.74,1006.77 L1455.03,1006.77 L1454.36,1025.48 L1452.89,1025.48 Z M1452.58,1006.77 L1456.6,1006.77 L1455.14,1031.98 L1453.78,1031.98 Z M1453.79,1006.78 L1459.13,1006.78 L1457.12,1042.16 L1455.4,1042.16 Z M1455.37,1006.79 L1459.96,1006.79 L1458.42,1029.44 L1456.06,1029.44 Z M1456.51,1006.79 L1461.21,1006.79 L1459.02,1030.3 L1457.74,1030.3 Z M1410,1006.62 L1417,1006.62 L1415.2,1056.12 L1411.8,1056.12 Z" fill="#0c0c0c" fill-rule="nonzero"/>
<path d="M764.8,1141.4 L828.7,1141.4 L828.7,1145.16 L826.92,1145.16 L826.92,1145.63 L825.34,1145.63 L825.34,1145.22 L823.46,1145.22 L823.46,1145.81 L821.85,1145.81 L821.85,1145.51 L820.5,1145.51 L820.5,1145 L819.02,1145 L819.02,1145.59 L817.84,1145.59 L817.84,1145.79 L816.49,1145.79 L816.49,1145.23 L815.33,1145.23 L815.33,1146 L813.5,1146 L813.5,1145.88 L811.79,1145.88 L811.79,1145.03 L810.36,1145.03 L810.36,1145.5 L809.12,1145.5 L809.12,1145.95 L807.65,1145.95 L807.65,1145.15 L805.75,1145.15 L805.75,1145.12 L803.74,1145.12 L803.74,1145.45 L802.09,1145.45 L802.09,1145.34 L800.5,1145.34 L800.5,1145.19 L799.34,1145.19 L799.34,1145.87 L798,1145.87 L798,1145.78 L796.68,1145.78 L796.68,1145.97 L794.7,1145.97 L794.7,1145.75 L792.85,1145.75 L792.85,1145.58 L791.03,1145.58 L791.03,1145.12 L789.45,1145.12 L789.45,1145.83 L788.14,1145.83 L788.14,1145.92 L786.17,1145.92 L786.17,1145.41 L784.69,1145.41 L784.69,1145.45 L783.2,1145.45 L783.2,1145.99 L781.71,1145.99 L781.71,1145.03 L780.5,1145.03 L780.5,1145.72 L778.43,1145.72 L778.43,1145.5 L776.84,1145.5 L776.84,1145.55 L775,1145.55 L775,1145.22 L773.3,1145.22 L773.3,1145.56 L771.58,1145.56 L771.58,1145.18 L770.29,1145.18 L770.29,1145.35 L768.28,1145.35 L768.28,1145.35 L766.59,1145.35 L766.59,1145.31 L765.37,1145.31 L765.37,1145.07 L764.8,1145.07 Z M765.17,1141.9 L768.54,1141.9 L768.09,1147.94 L766.41,1147.94 Z M782.51,1141.9 L786.49,1141.9 L785.57,1148.11 L783.61,1148.11 Z M795.06,1141.9 L797.81,1141.9 L797.43,1148.58 L796.18,1148.58 Z M795.83,1141.9 L799.44,1141.9 L798.5,1146.57 L796.73,1146.57 Z M806.45,1141.9 L808.97,1141.9 L808.27,1146.52 L806.98,1146.52 Z M807.57,1141.9 L810.25,1141.9 L810.34,1146.57 L808.44,1146.57 Z M815.27,1141.9 L817.77,1141.9 L817.52,1148.51 L815.56,1148.51 Z M822.55,1141.9 L824.98,1141.9 L824.98,1146.45 L823.14,1146.45 Z" fill="#0c0c0c" fill-rule="nonzero"/>
<path d="M842.2,1141.5 L905.7,1141.5 L905.7,1145.14 L902.56,1145.14 L902.56,1144.81 L897.37,1144.81 L897.37,1144.86 L894.28,1144.86 L894.28,1145.03 L890.65,1145.03 L890.65,1145.11 L887.29,1145.11 L887.29,1145.14 L883.72,1145.14 L883.72,1145.01 L878.69,1145.01 L878.69,1145.04 L873.67,1145.04 L873.67,1145.05 L870.75,1145.05 L870.75,1145.11 L866.54,1145.11 L866.54,1144.91 L863.28,1144.91 L863.28,1145.1 L859.08,1145.1 L859.08,1145.13 L854.43,1145.13 L854.43,1145.14 L850.27,1145.14 L850.27,1145.04 L846,1145.04 L846,1144.89 L842.2,1144.89 Z" fill="#0c0c0c" fill-rule="nonzero"/>
<path d="M917,1141.1 L1019.4,1141.1 L1019.4,1145.72 L1017.37,1145.72 L1017.37,1145.69 L1016.17,1145.69 L1016.17,1145.39 L1014.64,1145.39 L1014.64,1145.33 L1013.4,1145.33 L1013.4,1144.99 L1011.85,1144.99 L1011.85,1145.02 L1010.29,1145.02 L1010.29,1144.82 L1009.09,1144.82 L1009.09,1145.51 L1007.57,1145.51 L1007.57,1145.31 L1005.74,1145.31 L1005.74,1145.16 L1004.57,1145.16 L1004.57,1145.58 L1002.88,1145.58 L1002.88,1145.46 L1001.17,1145.46 L1001.17,1145.77 L999.7,1145.77 L999.7,1145.56 L998.22,1145.56 L998.22,1145.37 L996.47,1145.37 L996.47,1145.11 L995.27,1145.11 L995.27,1145.27 L993.46,1145.27 L993.46,1145.39 L991.91,1145.39 L991.91,1145.44 L990.61,1145.44 L990.61,1144.98 L989.18,1144.98 L989.18,1145.62 L987.87,1145.62 L987.87,1144.91 L986.66,1144.91 L986.66,1144.84 L985.28,1144.84 L985.28,1145.37 L983.37,1145.37 L983.37,1145.13 L981.89,1145.13 L981.89,1145.09 L980.48,1145.09 L980.48,1145.58 L978.83,1145.58 L978.83,1145.06 L977.61,1145.06 L977.61,1145.58 L975.81,1145.58 L975.81,1145.63 L974.46,1145.63 L974.46,1145.35 L972.46,1145.35 L972.46,1145.39 L970.43,1145.39 L970.43,1144.97 L968.38,1144.97 L968.38,1144.86 L966.86,1144.86 L966.86,1144.82 L964.96,1144.82 L964.96,1145.49 L962.91,1145.49 L962.91,1145.6 L960.87,1145.6 L960.87,1145.34 L958.81,1145.34 L958.81,1145.55 L957.35,1145.55 L957.35,1145.77 L955.87,1145.77 L955.87,1144.99 L954.68,1144.99 L954.68,1145.27 L953.37,1145.27 L953.37,1145.73 L951.34,1145.73 L951.34,1145.02 L950.12,1145.02 L950.12,1145.33 L948.84,1145.33 L948.84,1145.34 L946.94,1145.34 L946.94,1145.05 L945.41,1145.05 L945.41,1145.7 L943.86,1145.7 L943.86,1145.14 L941.89,1145.14 L941.89,1145.61 L939.91,1145.61 L939.91,1145.49 L938.39,1145.49 L938.39,1145.49 L936.47,1145.49 L936.47,1145.44 L935.13,1145.44 L935.13,1145.1 L933.61,1145.1 L933.61,1145.57 L931.96,1145.57 L931.96,1145.35 L930.04,1145.35 L930.04,1144.91 L928.32,1144.91 L928.32,1145.13 L926.66,1145.13 L926.66,1145.64 L925.3,1145.64 L925.3,1145.75 L924.11,1145.75 L924.11,1145.36 L922.47,1145.36 L922.47,1145.04 L920.81,1145.04 L920.81,1145.27 L919.26,1145.27 L919.26,1145.52 L918.13,1145.52 L918.13,1145.18 L917,1145.18 Z M917,1141.6 L918.89,1141.6 L918.3,1147.35 L917,1147.35 Z M936.63,1141.6 L938.71,1141.6 L938.5,1146.59 L936.8,1146.59 Z M975.33,1141.6 L977.88,1141.6 L977.16,1146.77 L975.64,1146.77 Z" fill="#0c0c0c" fill-rule="nonzero"/>
<path d="M1031.6,1141.1 L1132.6,1141.1 L1132.6,1145.45 L1130.67,1145.45 L1130.67,1144.82 L1128.6,1144.82 L1128.6,1144.83 L1126.83,1144.83 L1126.83,1144.71 L1124.98,1144.71 L1124.98,1144.78 L1123.19,1144.78 L1123.19,1145.47 L1121.33,1145.47 L1121.33,1145.13 L1119.38,1145.13 L1119.38,1145.79 L1118.15,1145.79 L1118.15,1145.22 L1116.11,1145.22 L1116.11,1145.49 L1114.56,1145.49 L1114.56,1144.97 L1112.53,1144.97 L1112.53,1144.7 L1110.68,1144.7 L1110.68,1145.61 L1109.41,1145.61 L1109.41,1144.99 L1107.99,1144.99 L1107.99,1145.25 L1106.52,1145.25 L1106.52,1145.67 L1104.51,1145.67 L1104.51,1144.98 L1102.53,1144.98 L1102.53,1144.68 L1101.32,1144.68 L1101.32,1145.4 L1099.43,1145.4 L1099.43,1145.58 L1097.36,1145.58 L1097.36,1145.63 L1095.99,1145.63 L1095.99,1145.49 L1093.98,1145.49 L1093.98,1144.71 L1092.38,1144.71 L1092.38,1144.79 L1091.13,1144.79 L1091.13,1145.18 L1089.36,1145.18 L1089.36,1145.77 L1088.12,1145.77 L1088.12,1145.21 L1086.04,1145.21 L1086.04,1145.52 L1084.41,1145.52 L1084.41,1144.64 L1082.68,1144.64 L1082.68,1144.66 L1080.94,1144.66 L1080.94,1145.05 L1079.45,1145.05 L1079.45,1145.19 L1077.94,1145.19 L1077.94,1144.87 L1076.02,1144.87 L1076.02,1144.65 L1074.72,1144.65 L1074.72,1144.97 L1073.19,1144.97 L1073.19,1145.27 L1071.83,1145.27 L1071.83,1144.77 L1070.65,1144.77 L1070.65,1144.85 L1069.23,1144.85 L1069.23,1144.85 L1067.38,1144.85 L1067.38,1144.44 L1065.31,1144.44 L1065.31,1145.11 L1063.41,1145.11 L1063.41,1144.94 L1061.74,1144.94 L1061.74,1144.81 L1060.24,1144.81 L1060.24,1144.62 L1058.83,1144.62 L1058.83,1144.69 L1057.38,1144.69 L1057.38,1145.31 L1055.5,1145.31 L1055.5,1145.04 L1054.36,1145.04 L1054.36,1144.66 L1052.72,1144.66 L1052.72,1145.09 L1051.2,1145.09 L1051.2,1145.03 L1049.21,1145.03 L1049.21,1144.67 L1047.72,1144.67 L1047.72,1145.16 L1046.29,1145.16 L1046.29,1145.12 L1044.79,1145.12 L1044.79,1144.42 L1043.23,1144.42 L1043.23,1144.47 L1041.36,1144.47 L1041.36,1145.25 L1039.73,1145.25 L1039.73,1145.3 L1038.4,1145.3 L1038.4,1144.85 L1037.11,1144.85 L1037.11,1144.45 L1035.2,1144.45 L1035.2,1144.45 L1033.19,1144.45 L1033.19,1144.96 L1031.6,1144.96 Z M1031.6,1141.6 L1033.99,1141.6 L1032.43,1148.74 L1031.6,1148.74 Z M1032.64,1141.6 L1034.8,1141.6 L1034.61,1147.33 L1032.81,1147.33 Z M1044.24,1141.6 L1047.55,1141.6 L1046.77,1146.61 L1045.32,1146.61 Z M1049.34,1141.6 L1053.03,1141.6 L1051.94,1149.06 L1050.11,1149.06 Z M1052.17,1141.6 L1054.44,1141.6 L1054.07,1146.36 L1052.1,1146.36 Z M1072.13,1141.6 L1075.37,1141.6 L1074.18,1146.55 L1072.93,1146.55 Z M1085.08,1141.6 L1089.95,1141.6 L1087.91,1150.77 L1086.67,1150.77 Z M1086.24,1141.6 L1091.19,1141.6 L1089.47,1148.04 L1087.91,1148.04 Z M1088.5,1141.6 L1092.72,1141.6 L1090.73,1152 L1089.58,1152 Z M1089.64,1141.6 L1093.98,1141.6 L1092.16,1152.48 L1090.93,1152.48 Z M1091.29,1141.6 L1095.66,1141.6 L1093.93,1151.33 L1092.69,1151.33 Z M1092.77,1141.6 L1096.65,1141.6 L1095.42,1153.61 L1093.48,1153.61 Z M1096.85,1141.6 L1101.68,1141.6 L1099.67,1150.46 L1098.31,1150.46 Z M1105.11,1141.6 L1108.88,1141.6 L1107.25,1153.67 L1105.92,1153.67 Z M1107.97,1141.6 L1111.37,1141.6 L1110.46,1153.43 L1109.01,1153.43 Z M1109,1141.6 L1112.8,1141.6 L1112.26,1147.49 L1110.29,1147.49 Z M1110.25,1141.6 L1114.83,1141.6 L1113.19,1152.2 L1111.61,1152.2 Z M1111.63,1141.6 L1115.85,1141.6 L1113.99,1151.53 L1112.77,1151.53 Z M1112.58,1141.6 L1117.29,1141.6 L1115.81,1152.58 L1114.29,1152.58 Z M1118.62,1141.6 L1122.42,1141.6 L1121.62,1147.73 L1120.17,1147.73 Z M1120.3,1141.6 L1123.15,1141.6 L1122.92,1152.74 L1121.31,1152.74 Z M1121.67,1141.6 L1124.18,1141.6 L1123.66,1149.82 L1122.15,1149.82 Z M1064.1,1141.6 L1066.7,1141.6 L1066.2,1168.1 L1064.6,1168.1 Z" fill="#0c0c0c" fill-rule="nonzero"/>
<path d="M1144.8,1141.7 L1246.3,1141.7 L1246.3,1148.64 L1244.29,1148.64 L1244.29,1149.81 L1242.96,1149.81 L1242.96,1149.88 L1241.23,1149.88 L1241.23,1147.81 L1239.2,1147.81 L1239.2,1148.34 L1237.79,1148.34 L1237.79,1148.76 L1236.1,1148.76 L1236.1,1148.01 L1234.32,1148.01 L1234.32,1149.78 L1232.71,1149.78 L1232.71,1149.69 L1230.99,1149.69 L1230.99,1149.76 L1229.7,1149.76 L1229.7,1148.6 L1228.12,1148.6 L1228.12,1147.96 L1226.07,1147.96 L1226.07,1149.29 L1224.86,1149.29 L1224.86,1149.16 L1223.34,1149.16 L1223.34,1148.17 L1222.06,1148.17 L1222.06,1148.85 L1220.88,1148.85 L1220.88,1149.11 L1219.26,1149.11 L1219.26,1148.02 L1217.3,1148.02 L1217.3,1147.8 L1216.02,1147.8 L1216.02,1149.74 L1214.68,1149.74 L1214.68,1148.76 L1213.03,1148.76 L1213.03,1148.79 L1211.43,1148.79 L1211.43,1148.96 L1209.85,1148.96 L1209.85,1147.84 L1207.95,1147.84 L1207.95,1148.41 L1206.78,1148.41 L1206.78,1148.72 L1204.88,1148.72 L1204.88,1149.27 L1203.32,1149.27 L1203.32,1148.89 L1201.99,1148.89 L1201.99,1149.25 L1200.53,1149.25 L1200.53,1147.86 L1199.29,1147.86 L1199.29,1147.93 L1197.51,1147.93 L1197.51,1149.91 L1195.67,1149.91 L1195.67,1148.25 L1194.4,1148.25 L1194.4,1150.08 L1192.92,1150.08 L1192.92,1148.12 L1191.26,1148.12 L1191.26,1149.25 L1189.62,1149.25 L1189.62,1148.83 L1188.21,1148.83 L1188.21,1148.94 L1186.65,1148.94 L1186.65,1149.4 L1185.1,1149.4 L1185.1,1148.59 L1183.03,1148.59 L1183.03,1147.98 L1181.18,1147.98 L1181.18,1148.74 L1179.29,1148.74 L1179.29,1149.47 L1177.63,1149.47 L1177.63,1149.23 L1176.29,1149.23 L1176.29,1147.74 L1174.45,1147.74 L1174.45,1148.35 L1173.22,1148.35 L1173.22,1149.73 L1171.54,1149.73 L1171.54,1147.78 L1169.92,1147.78 L1169.92,1148.11 L1167.97,1148.11 L1167.97,1148.38 L1165.94,1148.38 L1165.94,1149.23 L1164.75,1149.23 L1164.75,1148.72 L1162.7,1148.72 L1162.7,1149.45 L1161.43,1149.45 L1161.43,1148.62 L1160.05,1148.62 L1160.05,1147.93 L1158.36,1147.93 L1158.36,1149.44 L1157.03,1149.44 L1157.03,1149.08 L1155.09,1149.08 L1155.09,1149.93 L1153.8,1149.93 L1153.8,1147.89 L1151.8,1147.89 L1151.8,1148.52 L1150.53,1148.52 L1150.53,1149.7 L1149.15,1149.7 L1149.15,1149.5 L1147.37,1149.5 L1147.37,1148.43 L1145.81,1148.43 L1145.81,1148.42 L1144.8,1148.42 Z M1144.8,1142.2 L1148.65,1142.2 L1146.54,1157.41 L1145.07,1157.41 Z M1146.96,1142.2 L1150.82,1142.2 L1150.34,1153.71 L1148.4,1153.71 Z M1149.05,1142.2 L1152.22,1142.2 L1151.34,1161.34 L1149.65,1161.34 Z M1151.57,1142.2 L1155.51,1142.2 L1154.87,1157.86 L1152.76,1157.86 Z M1153.82,1142.2 L1156.98,1142.2 L1155.68,1154.33 L1154.38,1154.33 Z M1157.35,1142.2 L1160.73,1142.2 L1160.25,1162.27 L1158.17,1162.27 Z M1162.22,1142.2 L1166.16,1142.2 L1165.72,1171.03 L1163.62,1171.03 Z M1171.39,1142.2 L1176.95,1142.2 L1174.87,1154.06 L1172.68,1154.06 Z M1180.98,1142.2 L1184.07,1142.2 L1183.74,1169.04 L1181.83,1169.04 Z M1185.34,1142.2 L1191.25,1142.2 L1188.51,1154.19 L1187.24,1154.19 Z M1198.78,1142.2 L1202.31,1142.2 L1201.47,1161.43 L1199.87,1161.43 Z M1199.33,1142.2 L1204.36,1142.2 L1202.51,1171.51 L1200.92,1171.51 Z M1201.09,1142.2 L1205.01,1142.2 L1204.16,1173.33 L1202.02,1173.33 Z M1204.01,1142.2 L1208.51,1142.2 L1206.86,1155.78 L1205.56,1155.78 Z M1208.39,1142.2 L1212.05,1142.2 L1211.2,1171.79 L1209.82,1171.79 Z M1209.2,1142.2 L1213.64,1142.2 L1212.73,1156.08 L1211.1,1156.08 Z M1210.43,1142.2 L1214.81,1142.2 L1213.03,1170.41 L1211.69,1170.41 Z M1220.47,1142.2 L1224.74,1142.2 L1223.21,1155.8 L1221.97,1155.8 Z M1225.61,1142.2 L1229.63,1142.2 L1228.76,1167.13 L1227.13,1167.13 Z M1234.79,1142.2 L1237.95,1142.2 L1237.28,1160.7 L1235.14,1160.7 Z M1237.53,1142.2 L1240.59,1142.2 L1239.76,1154.07 L1238.45,1154.07 Z M1238.6,1142.2 L1242.04,1142.2 L1240.77,1168.51 L1238.91,1168.51 Z M1240.29,1142.2 L1244.06,1142.2 L1242.46,1172.2 L1240.95,1172.2 Z M1158.7,1142.2 L1162.1,1142.2 L1161.3,1198.7 L1159.5,1198.7 Z M1223.4,1142.2 L1226,1142.2 L1225.5,1201.7 L1223.9,1201.7 Z M1239.35,1142.2 L1243.85,1142.2 L1242.7,1186.7 L1240.5,1186.7 Z" fill="#0c0c0c" fill-rule="nonzero"/>
<path d="M1256.6,1141.7 L1359,1141.7 L1359,1149.57 L1357.69,1149.57 L1357.69,1148.21 L1355.99,1148.21 L1355.99,1147.84 L1354.12,1147.84 L1354.12,1149.61 L1352.96,1149.61 L1352.96,1149.41 L1351.36,1149.41 L1351.36,1149.29 L1349.33,1149.29 L1349.33,1150.17 L1347.81,1150.17 L1347.81,1149.81 L1345.94,1149.81 L1345.94,1150.13 L1344.79,1150.13 L1344.79,1163.2 L1343.46,1163.2 L1343.46,1156.74 L1341.76,1156.74 L1341.76,1162.41 L1339.72,1162.41 L1339.72,1158.61 L1337.81,1158.61 L1337.81,1155.95 L1335.76,1155.95 L1335.76,1158.05 L1334.12,1158.05 L1334.12,1156.69 L1332.96,1156.69 L1332.96,1155.76 L1331.26,1155.76 L1331.26,1160.19 L1329.36,1160.19 L1329.36,1162.51 L1327.83,1162.51 L1327.83,1162.48 L1326.52,1162.48 L1326.52,1162.75 L1325.16,1162.75 L1325.16,1163.22 L1323.67,1163.22 L1323.67,1159.12 L1322.05,1159.12 L1322.05,1156.17 L1320.86,1156.17 L1320.86,1160.06 L1319.05,1160.06 L1319.05,1156.06 L1317.54,1156.06 L1317.54,1158.66 L1315.67,1158.66 L1315.67,1151.67 L1314.47,1151.67 L1314.47,1150.33 L1313.25,1150.33 L1313.25,1151.05 L1311.22,1151.05 L1311.22,1150.82 L1309.54,1150.82 L1309.54,1148.82 L1308.33,1148.82 L1308.33,1149.42 L1307.13,1149.42 L1307.13,1149.1 L1305.09,1149.1 L1305.09,1149.74 L1303.1,1149.74 L1303.1,1150.98 L1301.24,1150.98 L1301.24,1151.44 L1299.45,1151.44 L1299.45,1149.74 L1297.88,1149.74 L1297.88,1149.87 L1296.72,1149.87 L1296.72,1148.83 L1295.06,1148.83 L1295.06,1150.27 L1293.01,1150.27 L1293.01,1150.56 L1291.1,1150.56 L1291.1,1150.13 L1289.42,1150.13 L1289.42,1151.15 L1288.27,1151.15 L1288.27,1148.76 L1286.74,1148.76 L1286.74,1149.58 L1285.21,1149.58 L1285.21,1148.89 L1283.92,1148.89 L1283.92,1149 L1282.22,1149 L1282.22,1148.8 L1281.08,1148.8 L1281.08,1150.74 L1279.55,1150.74 L1279.55,1148.77 L1277.53,1148.77 L1277.53,1150.17 L1275.51,1150.17 L1275.51,1150.65 L1273.87,1150.65 L1273.87,1149.89 L1272.65,1149.89 L1272.65,1151.6 L1271.11,1151.6 L1271.11,1149.62 L1269.85,1149.62 L1269.85,1150.49 L1267.78,1150.49 L1267.78,1149.91 L1265.89,1149.91 L1265.89,1150.8 L1264.27,1150.8 L1264.27,1150.66 L1262.45,1150.66 L1262.45,1151.49 L1261.29,1151.49 L1261.29,1149.13 L1259.94,1149.13 L1259.94,1148.9 L1258.55,1148.9 L1258.55,1150.01 L1257.22,1150.01 L1257.22,1150.2 L1256.6,1150.2 Z M1257.27,1142.2 L1260.58,1142.2 L1260.01,1179.31 L1258.36,1179.31 Z M1258.57,1142.2 L1261.68,1142.2 L1261.38,1180.12 L1259.24,1180.12 Z M1259.82,1142.2 L1265.64,1142.2 L1263.57,1182.66 L1260.99,1182.66 Z M1262.32,1142.2 L1267.55,1142.2 L1265.43,1158.83 L1263.78,1158.83 Z M1264.24,1142.2 L1268.03,1142.2 L1266.98,1156.86 L1265.34,1156.86 Z M1269.86,1142.2 L1273.83,1142.2 L1272.97,1179.58 L1271.27,1179.58 Z M1270.09,1142.2 L1276,1142.2 L1274.06,1176.62 L1271.97,1176.62 Z M1271.32,1142.2 L1277.17,1142.2 L1274.53,1162.83 L1273.06,1162.83 Z M1274.92,1142.2 L1279.72,1142.2 L1277.88,1164.26 L1276.2,1164.26 Z M1275.98,1142.2 L1281.06,1142.2 L1279.45,1179.3 L1278.01,1179.3 Z M1281.67,1142.2 L1284.95,1142.2 L1284.5,1169.74 L1283.08,1169.74 Z M1282.92,1142.2 L1286.1,1142.2 L1286.26,1156.7 L1283.77,1156.7 Z M1286.56,1142.2 L1291.99,1142.2 L1289.9,1188.95 L1288.41,1188.95 Z M1290.05,1142.2 L1295.34,1142.2 L1293.43,1178.24 L1291.2,1178.24 Z M1291.91,1142.2 L1296.84,1142.2 L1295.1,1189.28 L1293.48,1189.28 Z M1303.08,1142.2 L1306.38,1142.2 L1306.07,1162.81 L1303.69,1162.81 Z M1304.37,1142.2 L1308.17,1142.2 L1307.18,1169.71 L1304.95,1169.71 Z M1306.45,1142.2 L1311.42,1142.2 L1309.48,1188.22 L1307.66,1188.22 Z M1308.57,1142.2 L1313.89,1142.2 L1312.16,1157.39 L1310.2,1157.39 Z M1310.26,1142.2 L1314.6,1142.2 L1313.1,1178.76 L1311.17,1178.76 Z M1311.78,1142.2 L1315.48,1142.2 L1314.94,1157.94 L1312.65,1157.94 Z M1312.93,1142.2 L1316.74,1142.2 L1315.69,1157.1 L1313.47,1157.1 Z M1313.7,1142.2 L1320.07,1142.2 L1318.65,1186.79 L1315,1186.79 Z M1322.68,1142.2 L1327.51,1142.2 L1327.48,1193.6 L1323.61,1193.6 Z M1324.05,1142.2 L1329.7,1142.2 L1328.57,1199.64 L1325.47,1199.64 Z M1325.32,1142.2 L1330.83,1142.2 L1329.16,1200.5 L1326.6,1200.5 Z M1326.47,1142.2 L1333.23,1142.2 L1331.86,1198.7 L1328.63,1198.7 Z M1327.84,1142.2 L1334.45,1142.2 L1333.18,1194.6 L1329.24,1194.6 Z M1329.23,1142.2 L1335.46,1142.2 L1333.54,1190.84 L1330.2,1190.84 Z M1332.79,1142.2 L1339,1142.2 L1337.36,1191.26 L1334.16,1191.26 Z M1334.13,1142.2 L1340.9,1142.2 L1339.21,1193.67 L1335.54,1193.67 Z M1335.89,1142.2 L1342.1,1142.2 L1340.28,1197.25 L1337.75,1197.25 Z M1340.83,1142.2 L1345.31,1142.2 L1344.5,1193 L1341.72,1193 Z M1344.21,1142.2 L1347.99,1142.2 L1346.54,1165.54 L1345.28,1165.54 Z M1347.4,1142.2 L1351.2,1142.2 L1349.95,1159.08 L1348.55,1159.08 Z M1348.85,1142.2 L1352.15,1142.2 L1351.61,1162.35 L1350.26,1162.35 Z M1349.7,1142.2 L1353.7,1142.2 L1352.21,1156.15 L1350.91,1156.15 Z" fill="#0c0c0c" fill-rule="nonzero"/>
<path d="M1371.2,1141.2 L1472.7,1141.2 L1472.7,1180.09 L1470.91,1180.09 L1470.91,1181.94 L1469.6,1181.94 L1469.6,1176.59 L1467.69,1176.59 L1467.69,1178.2 L1466.21,1178.2 L1466.21,1181.09 L1464.91,1181.09 L1464.91,1181.66 L1463.32,1181.66 L1463.32,1176.63 L1461.32,1176.63 L1461.32,1179.64 L1460.13,1179.64 L1460.13,1181.23 L1458.26,1181.23 L1458.26,1180.64 L1456.51,1180.64 L1456.51,1182.16 L1455.38,1182.16 L1455.38,1182.05 L1453.64,1182.05 L1453.64,1177.72 L1451.93,1177.72 L1451.93,1178.23 L1450.19,1178.23 L1450.19,1180.43 L1448.57,1180.43 L1448.57,1176.79 L1447.07,1176.79 L1447.07,1178.01 L1445.23,1178.01 L1445.23,1181.79 L1443.37,1181.79 L1443.37,1179.38 L1442.08,1179.38 L1442.08,1180.45 L1440.71,1180.45 L1440.71,1182.18 L1439.42,1182.18 L1439.42,1182.01 L1438.29,1182.01 L1438.29,1180.88 L1436.83,1180.88 L1436.83,1179.64 L1435.32,1179.64 L1435.32,1178.05 L1433.78,1178.05 L1433.78,1181.09 L1432.32,1181.09 L1432.32,1178.37 L1430.45,1178.37 L1430.45,1177.27 L1428.98,1177.27 L1428.98,1179.3 L1427.37,1179.3 L1427.37,1177.22 L1425.51,1177.22 L1425.51,1179.13 L1424.31,1179.13 L1424.31,1178.23 L1423.13,1178.23 L1423.13,1178.26 L1421.9,1178.26 L1421.9,1177.73 L1420.25,1177.73 L1420.25,1180.34 L1418.84,1180.34 L1418.84,1178.98 L1417.23,1178.98 L1417.23,1179.72 L1415.24,1179.72 L1415.24,1177.5 L1413.37,1177.5 L1413.37,1179.53 L1411.39,1179.53 L1411.39,1180.31 L1410.27,1180.31 L1410.27,1176.54 L1408.39,1176.54 L1408.39,1177.98 L1406.68,1177.98 L1406.68,1176.78 L1405.02,1176.78 L1405.02,1178.66 L1403.45,1178.66 L1403.45,1176.22 L1401.47,1176.22 L1401.47,1181.26 L1399.64,1181.26 L1399.64,1179.93 L1398.3,1179.93 L1398.3,1177.35 L1396.38,1177.35 L1396.38,1178.18 L1394.89,1178.18 L1394.89,1181.48 L1393.44,1181.48 L1393.44,1182.16 L1392.14,1182.16 L1392.14,1181.31 L1390.74,1181.31 L1390.74,1177.02 L1389.18,1177.02 L1389.18,1181.15 L1387.96,1181.15 L1387.96,1179.77 L1386.02,1179.77 L1386.02,1176.38 L1384.43,1176.38 L1384.43,1178.07 L1382.86,1178.07 L1382.86,1181.19 L1381.32,1181.19 L1381.32,1178.02 L1380,1178.02 L1380,1181.1 L1378.74,1181.1 L1378.74,1180.49 L1376.66,1180.49 L1376.66,1180.35 L1374.68,1180.35 L1374.68,1176.95 L1372.97,1176.95 L1372.97,1179.85 L1371.78,1179.85 L1371.78,1178.8 L1371.2,1178.8 Z M1371.2,1141.7 L1373.83,1141.7 L1373.31,1192.22 L1371.2,1192.22 Z M1371.61,1141.7 L1375.17,1141.7 L1375.51,1196.95 L1372.1,1196.95 Z M1371.94,1141.7 L1377.99,1141.7 L1376.14,1194.1 L1373.24,1194.1 Z M1377.21,1141.7 L1382.39,1141.7 L1381.48,1189 L1378.66,1189 Z M1378.94,1141.7 L1383.06,1141.7 L1382.19,1195.83 L1379.14,1195.83 Z M1379.36,1141.7 L1385.04,1141.7 L1384.35,1194.1 L1380.98,1194.1 Z M1380.76,1141.7 L1386.04,1141.7 L1385.07,1186.59 L1382.2,1186.59 Z M1382.66,1141.7 L1386.55,1141.7 L1386.71,1198.23 L1383.46,1198.23 Z M1383.29,1141.7 L1388.77,1141.7 L1387.29,1192.96 L1385.09,1192.96 Z M1386.68,1141.7 L1392.28,1141.7 L1391.48,1200.26 L1388.4,1200.26 Z M1387.44,1141.7 L1393.92,1141.7 L1391.57,1191.2 L1389.48,1191.2 Z M1390.2,1141.7 L1396.1,1141.7 L1394.59,1200.37 L1392.31,1200.37 Z M1391.68,1141.7 L1397.02,1141.7 L1395.81,1194.21 L1392.34,1194.21 Z M1393.36,1141.7 L1397.74,1141.7 L1396.58,1190.75 L1394.33,1190.75 Z M1393.75,1141.7 L1399.75,1141.7 L1397.79,1189.99 L1395.63,1189.99 Z M1394.93,1141.7 L1400.97,1141.7 L1399.97,1186.41 L1396.79,1186.41 Z M1396.95,1141.7 L1401.35,1141.7 L1400.81,1197.95 L1397.63,1197.95 Z M1398.21,1141.7 L1402.49,1141.7 L1402.09,1195.6 L1399.29,1195.6 Z M1399.03,1141.7 L1405.43,1141.7 L1403.6,1197.62 L1401.41,1197.62 Z M1405.82,1141.7 L1410.33,1141.7 L1409.16,1194.39 L1406.2,1194.39 Z M1408.86,1141.7 L1412.44,1141.7 L1412.04,1197.43 L1409.24,1197.43 Z M1411.16,1141.7 L1414.92,1141.7 L1413.84,1192.62 L1411.8,1192.62 Z M1411.57,1141.7 L1416.91,1141.7 L1415.58,1188.59 L1412.25,1188.59 Z M1413.02,1141.7 L1418.45,1141.7 L1417.32,1193.57 L1413.89,1193.57 Z M1415.36,1141.7 L1419.32,1141.7 L1419.16,1193.66 L1416.46,1193.66 Z M1417.52,1141.7 L1422.02,1141.7 L1420.83,1188.96 L1418.54,1188.96 Z M1418.58,1141.7 L1423.37,1141.7 L1422.61,1187.85 L1419.13,1187.85 Z M1420.5,1141.7 L1425.15,1141.7 L1424.02,1200.86 L1421.51,1200.86 Z M1422.07,1141.7 L1425.99,1141.7 L1425.82,1186.66 L1422.79,1186.66 Z M1424.54,1141.7 L1428.89,1141.7 L1428.62,1187.96 L1425.26,1187.96 Z M1425.77,1141.7 L1430.07,1141.7 L1429.4,1197.48 L1427.26,1197.48 Z M1429.15,1141.7 L1433.9,1141.7 L1433.27,1193.68 L1429.9,1193.68 Z M1435.11,1141.7 L1440.56,1141.7 L1439.24,1185.46 L1436.86,1185.46 Z M1439.67,1141.7 L1445.19,1141.7 L1444.03,1185.7 L1440.8,1185.7 Z M1440.84,1141.7 L1446.42,1141.7 L1445.1,1193.7 L1442.29,1193.7 Z M1442.72,1141.7 L1446.95,1141.7 L1445.89,1191.05 L1442.8,1191.05 Z M1444.06,1141.7 L1448.91,1141.7 L1448.08,1196.27 L1445.45,1196.27 Z M1444.92,1141.7 L1450.59,1141.7 L1449.97,1186.42 L1446.51,1186.42 Z M1448.75,1141.7 L1453.94,1141.7 L1452.81,1186.15 L1450.53,1186.15 Z M1449.45,1141.7 L1455.63,1141.7 L1453.94,1193.79 L1451.66,1193.79 Z M1456.84,1141.7 L1461.81,1141.7 L1460.8,1192.81 L1458.68,1192.81 Z M1457.69,1141.7 L1463.35,1141.7 L1462.21,1197.53 L1459.8,1197.53 Z M1462.91,1141.7 L1467.66,1141.7 L1466.59,1195.67 L1463.86,1195.67 Z M1465.36,1141.7 L1469.15,1141.7 L1468.49,1201.01 L1466.07,1201.01 Z M1465.9,1141.7 L1472.16,1141.7 L1470.52,1196.73 L1467.27,1196.73 Z M1467.08,1141.7 L1472.7,1141.7 L1471.04,1194.73 L1468.71,1194.73 Z M1468.73,1141.7 L1472.7,1141.7 L1472.7,1196.95 L1470.1,1196.95 Z" fill="#0c0c0c" fill-rule="nonzero"/>
<path d="M763.9,1287.3 L827.4,1287.3 L827.4,1291.01 L826.17,1291.01 L826.17,1291.39 L824.4,1291.39 L824.4,1291.14 L823.17,1291.14 L823.17,1291.23 L821.32,1291.23 L821.32,1291.15 L819.49,1291.15 L819.49,1291.66 L818.24,1291.66 L818.24,1291.54 L816.69,1291.54 L816.69,1291.41 L814.61,1291.41 L814.61,1291.09 L813.47,1291.09 L813.47,1291.94 L811.97,1291.94 L811.97,1291.2 L810.53,1291.2 L810.53,1291.36 L808.49,1291.36 L808.49,1291.21 L807.16,1291.21 L807.16,1291.58 L805.52,1291.58 L805.52,1291.95 L803.59,1291.95 L803.59,1291.36 L802.28,1291.36 L802.28,1291.84 L800.21,1291.84 L800.21,1291.03 L798.38,1291.03 L798.38,1291.87 L796.64,1291.87 L796.64,1291.22 L794.75,1291.22 L794.75,1291.73 L793.45,1291.73 L793.45,1291.64 L792.12,1291.64 L792.12,1291.04 L790.67,1291.04 L790.67,1291.33 L789.17,1291.33 L789.17,1291.65 L787.25,1291.65 L787.25,1291.96 L785.19,1291.96 L785.19,1291.99 L783.31,1291.99 L783.31,1291.31 L782.03,1291.31 L782.03,1291.62 L780.38,1291.62 L780.38,1291.67 L779.17,1291.67 L779.17,1291.19 L777.17,1291.19 L777.17,1291.6 L775.38,1291.6 L775.38,1291.1 L773.88,1291.1 L773.88,1291.91 L772.13,1291.91 L772.13,1291.99 L770.82,1291.99 L770.82,1291.45 L768.94,1291.45 L768.94,1291.44 L767.06,1291.44 L767.06,1291.56 L765.82,1291.56 L765.82,1291.1 L763.9,1291.1 Z M763.9,1287.8 L765.97,1287.8 L765.85,1291.98 L764.14,1291.98 Z M773.61,1287.8 L777.19,1287.8 L775.91,1292.41 L774.63,1292.41 Z M790.17,1287.8 L792.25,1287.8 L791.4,1292.63 L790.29,1292.63 Z M810.76,1287.8 L814.71,1287.8 L813.37,1292.73 L811.61,1292.73 Z" fill="#0c0c0c" fill-rule="nonzero"/>
<path d="M841.9,1287.6 L905.7,1287.6 L905.7,1290.63 L902.39,1290.63 L902.39,1290.71 L897.43,1290.71 L897.43,1290.77 L892.9,1290.77 L892.9,1290.64 L888.88,1290.64 L888.88,1290.9 L884.82,1290.9 L884.82,1290.93 L879.91,1290.93 L879.91,1290.73 L877.1,1290.73 L877.1,1290.86 L874,1290.86 L874,1290.6 L869.45,1290.6 L869.45,1290.89 L864.64,1290.89 L864.64,1290.93 L861.36,1290.93 L861.36,1290.63 L858.27,1290.63 L858.27,1290.94 L855.2,1290.94 L855.2,1290.66 L852.35,1290.66 L852.35,1290.62 L849.46,1290.62 L849.46,1290.72 L846.26,1290.72 L846.26,1290.71 L841.9,1290.71 Z" fill="#0c0c0c" fill-rule="nonzero"/>
<path d="M917.9,1288 L1010,1288 L1010,1291.2 L1005.68,1291.2 L1005.68,1291.29 L1002.22,1291.29 L1002.22,1291.23 L997.28,1291.23 L997.28,1291.32 L994.03,1291.32 L994.03,1291.23 L989.75,1291.23 L989.75,1291.18 L984.63,1291.18 L984.63,1291.18 L980.76,1291.18 L980.76,1291.33 L976.44,1291.33 L976.44,1291.11 L972.9,1291.11 L972.9,1291.17 L969.97,1291.17 L969.97,1291.21 L965.4,1291.21 L965.4,1291.15 L960.57,1291.15 L960.57,1291.32 L956.44,1291.32 L956.44,1291.24 L953.36,1291.24 L953.36,1291.02 L948.2,1291.02 L948.2,1291.1 L944.89,1291.1 L944.89,1291.31 L940.29,1291.31 L940.29,1291.04 L936.72,1291.04 L936.72,1291.08 L933.27,1291.08 L933.27,1291 L929.21,1291 L929.21,1291.11 L925.46,1291.11 L925.46,1291.06 L922.4,1291.06 L922.4,1291.01 L917.9,1291.01 Z" fill="#0c0c0c" fill-rule="nonzero"/>
<path d="M1026.9,1289.2 L1129.8,1290.2 L1129.8,1293.39 L1125.59,1293.34 L1125.59,1293.45 L1120.64,1293.41 L1120.64,1293.42 L1116.96,1293.38 L1116.96,1293.41 L1113.14,1293.37 L1113.14,1293.15 L1110.12,1293.12 L1110.12,1293.19 L1106.95,1293.16 L1106.95,1293.07 L1102.68,1293.03 L1102.68,1293.21 L1098.07,1293.16 L1098.07,1292.92 L1095.13,1292.89 L1095.13,1292.95 L1091,1292.91 L1091,1293.12 L1086.28,1293.07 L1086.28,1293.1 L1082.07,1293.06 L1082.07,1292.96 L1078.57,1292.92 L1078.57,1292.81 L1075.27,1292.78 L1075.27,1292.86 L1071.02,1292.82 L1071.02,1292.83 L1067.28,1292.79 L1067.28,1292.74 L1063.88,1292.71 L1063.88,1292.84 L1059.68,1292.8 L1059.68,1292.78 L1054.94,1292.73 L1054.94,1292.57 L1051.86,1292.54 L1051.86,1292.54 L1046.88,1292.49 L1046.88,1292.67 L1043.11,1292.63 L1043.11,1292.63 L1039.48,1292.59 L1039.48,1292.63 L1036.47,1292.6 L1036.47,1292.55 L1031.31,1292.5 L1031.31,1292.39 L1027.41,1292.35 L1027.41,1292.25 L1026.9,1292.25 Z" fill="#0c0c0c" fill-rule="nonzero"/>
<path d="M1144.8,1290.8 L1249.1,1291.4 L1249.1,1294.69 L1244.5,1294.67 L1244.5,1294.74 L1239.62,1294.71 L1239.62,1294.55 L1234.51,1294.52 L1234.51,1294.61 L1229.91,1294.59 L1229.91,1294.65 L1224.88,1294.62 L1224.88,1294.46 L1221.2,1294.44 L1221.2,1294.59 L1217,1294.57 L1217,1294.58 L1213.32,1294.56 L1213.32,1294.63 L1210.5,1294.61 L1210.5,1294.53 L1206.8,1294.51 L1206.8,1294.27 L1202.38,1294.24 L1202.38,1294.25 L1199.01,1294.23 L1199.01,1294.33 L1195.84,1294.31 L1195.84,1294.25 L1192.86,1294.23 L1192.86,1294.47 L1189.86,1294.46 L1189.86,1294.22 L1186.88,1294.2 L1186.88,1294.46 L1182.77,1294.44 L1182.77,1294.41 L1177.63,1294.38 L1177.63,1294.26 L1173.88,1294.24 L1173.88,1294.2 L1170.45,1294.18 L1170.45,1294.26 L1165.33,1294.23 L1165.33,1294.19 L1160.71,1294.17 L1160.71,1294.3 L1155.92,1294.28 L1155.92,1294.2 L1151.81,1294.18 L1151.81,1293.97 L1148.1,1293.95 L1148.1,1294.22 L1144.8,1294.2 Z" fill="#0c0c0c" fill-rule="nonzero"/>
<path d="M1259.4,1290.7 L1368.4,1289.5 L1368.4,1299.66 L1366.34,1299.68 L1366.34,1300.94 L1364.33,1300.96 L1364.33,1300.62 L1362.37,1300.65 L1362.37,1299.07 L1360.65,1299.09 L1360.65,1299.58 L1358.83,1299.6 L1358.83,1299.97 L1357.17,1299.99 L1357.17,1300.21 L1355.5,1300.23 L1355.5,1300.8 L1353.44,1300.82 L1353.44,1299.86 L1351.54,1299.88 L1351.54,1300.96 L1350.05,1300.98 L1350.05,1299.45 L1348.45,1299.47 L1348.45,1300.75 L1346.83,1300.77 L1346.83,1299.61 L1345.03,1299.63 L1345.03,1299.91 L1343.06,1299.93 L1343.06,1299.62 L1341.37,1299.63 L1341.37,1300.07 L1339.3,1300.09 L1339.3,1299.6 L1337.34,1299.62 L1337.34,1300.18 L1335.86,1300.19 L1335.86,1299.77 L1334.27,1299.79 L1334.27,1301.23 L1332.19,1301.26 L1332.19,1301.28 L1330.48,1301.3 L1330.48,1299.89 L1328.87,1299.91 L1328.87,1300.73 L1327.47,1300.75 L1327.47,1301.42 L1326.27,1301.44 L1326.27,1299.93 L1324.95,1299.95 L1324.95,1299.81 L1323.77,1299.83 L1323.77,1299.97 L1322.29,1299.99 L1322.29,1301.39 L1320.65,1301.4 L1320.65,1300.78 L1319.2,1300.79 L1319.2,1299.88 L1317.53,1299.9 L1317.53,1301.02 L1316.33,1301.03 L1316.33,1300.87 L1315.01,1300.89 L1315.01,1300.97 L1313.55,1300.98 L1313.55,1299.9 L1312.3,1299.91 L1312.3,1301.2 L1310.66,1301.22 L1310.66,1299.81 L1308.67,1299.83 L1308.67,1300.21 L1307.28,1300.23 L1307.28,1299.68 L1305.87,1299.69 L1305.87,1300.81 L1303.89,1300.83 L1303.89,1300.31 L1302.29,1300.33 L1302.29,1299.89 L1300.51,1299.91 L1300.51,1300.35 L1299.03,1300.36 L1299.03,1300.31 L1297.13,1300.33 L1297.13,1301.75 L1295.87,1301.76 L1295.87,1300.7 L1294.65,1300.71 L1294.65,1301.31 L1292.66,1301.33 L1292.66,1300.09 L1290.88,1300.11 L1290.88,1300.46 L1289.33,1300.48 L1289.33,1301.02 L1287.84,1301.03 L1287.84,1301.19 L1286.41,1301.21 L1286.41,1300.89 L1284.95,1300.91 L1284.95,1300.77 L1283.69,1300.78 L1283.69,1300.65 L1282.46,1300.66 L1282.46,1301.19 L1280.94,1301.21 L1280.94,1300.8 L1278.96,1300.82 L1278.96,1300.3 L1277.33,1300.32 L1277.33,1301.22 L1275.61,1301.24 L1275.61,1301.54 L1274.15,1301.56 L1274.15,1301.89 L1272.39,1301.91 L1272.39,1300.21 L1270.69,1300.23 L1270.69,1301.11 L1268.67,1301.13 L1268.67,1301.55 L1266.9,1301.57 L1266.9,1301.47 L1265.1,1301.49 L1265.1,1301.03 L1263.51,1301.05 L1263.51,1301.22 L1262.37,1301.23 L1262.37,1301.19 L1260.84,1301.21 L1260.84,1301.04 L1259.4,1301.05 Z M1259.63,1291.18 L1262.78,1291.18 L1262.3,1303.21 L1261.06,1303.21 Z M1263.1,1291.14 L1266.58,1291.14 L1265.03,1304.34 L1264,1304.34 Z M1265.02,1291.12 L1267.82,1291.12 L1267.31,1303.32 L1265.79,1303.32 Z M1269.59,1291.07 L1272.4,1291.07 L1272.23,1304.24 L1270.39,1304.24 Z M1280.22,1290.95 L1283.37,1290.95 L1282.74,1301.97 L1281.57,1301.97 Z M1290.11,1290.85 L1292.76,1290.85 L1292.38,1303.92 L1290.51,1303.92 Z M1294.29,1290.8 L1296.51,1290.8 L1296.68,1302.21 L1294.84,1302.21 Z M1295.69,1290.79 L1298.29,1290.79 L1297.66,1301.92 L1295.75,1301.92 Z M1299.66,1290.74 L1303.55,1290.74 L1302.72,1302.51 L1301.38,1302.51 Z M1302.56,1290.71 L1305.35,1290.71 L1304.32,1301.72 L1302.9,1301.72 Z M1303.43,1290.7 L1306.88,1290.7 L1305.85,1303.34 L1304.12,1303.34 Z M1304.64,1290.68 L1308.08,1290.68 L1307.35,1302.95 L1306.14,1302.95 Z M1317.9,1290.54 L1320.2,1290.54 L1319.48,1302.4 L1317.93,1302.4 Z M1325.17,1290.46 L1328,1290.46 L1327.78,1303.22 L1325.93,1303.22 Z M1329.73,1290.41 L1332.48,1290.41 L1332.14,1301.58 L1330.8,1301.58 Z M1330.86,1290.4 L1333.76,1290.4 L1333.12,1301.59 L1331.81,1301.59 Z M1332.18,1290.38 L1335.52,1290.38 L1335.01,1301.61 L1333.08,1301.61 Z M1335.45,1290.35 L1337.85,1290.35 L1337.93,1301.46 L1336.26,1301.46 Z M1337.69,1290.33 L1339.91,1290.33 L1339.23,1304.7 L1337.95,1304.7 Z M1341,1290.28 L1344.31,1290.28 L1343.35,1302.23 L1342.3,1302.23 Z M1345.73,1290.24 L1348.06,1290.24 L1347.57,1301.63 L1346.16,1301.63 Z M1347.9,1290.21 L1350.17,1290.21 L1349.86,1304.49 L1348.23,1304.49 Z M1350.52,1290.18 L1354.04,1290.18 L1352.71,1301.87 L1350.89,1301.87 Z M1352.11,1290.16 L1355.3,1290.16 L1354.48,1301.16 L1352.73,1301.16 Z M1363.98,1290.03 L1367.31,1290.03 L1366,1303.54 L1364.89,1303.54 Z" fill="#0c0c0c" fill-rule="nonzero"/>
<path d="M1383.4,1291.6 L1450.1,1291.6 L1450.1,1320.31 L1448.89,1320.31 L1448.89,1320.14 L1446.96,1320.14 L1446.96,1320.69 L1445.35,1320.69 L1445.35,1320.18 L1443.87,1320.18 L1443.87,1319.92 L1442.65,1319.92 L1442.65,1320.31 L1440.95,1320.31 L1440.95,1319.3 L1439.47,1319.3 L1439.47,1320.44 L1437.93,1320.44 L1437.93,1321 L1435.87,1321 L1435.87,1320.7 L1434.67,1320.7 L1434.67,1318.79 L1433.27,1318.79 L1433.27,1319.5 L1431.47,1319.5 L1431.47,1320.67 L1429.81,1320.67 L1429.81,1320.2 L1428.14,1320.2 L1428.14,1318.69 L1426.52,1318.69 L1426.52,1319.13 L1425,1319.13 L1425,1318.62 L1423.25,1318.62 L1423.25,1320.88 L1422.06,1320.88 L1422.06,1320.05 L1420.92,1320.05 L1420.92,1319.48 L1419.64,1319.48 L1419.64,1320.75 L1417.83,1320.75 L1417.83,1320.84 L1416.5,1320.84 L1416.5,1320.4 L1414.7,1320.4 L1414.7,1319.88 L1412.71,1319.88 L1412.71,1320.16 L1411.31,1320.16 L1411.31,1320.39 L1409.73,1320.39 L1409.73,1319.13 L1408.02,1319.13 L1408.02,1318.72 L1406.47,1318.72 L1406.47,1319.99 L1405.35,1319.99 L1405.35,1320.22 L1404.14,1320.22 L1404.14,1320.22 L1402.69,1320.22 L1402.69,1318.67 L1400.61,1318.67 L1400.61,1318.76 L1399.34,1318.76 L1399.34,1319.86 L1397.99,1319.86 L1397.99,1319.93 L1396.41,1319.93 L1396.41,1320.04 L1394.77,1320.04 L1394.77,1319.34 L1393.45,1319.34 L1393.45,1320.34 L1391.92,1320.34 L1391.92,1319.9 L1389.92,1319.9 L1389.92,1318.62 L1388.53,1318.62 L1388.53,1320.01 L1387.36,1320.01 L1387.36,1320.48 L1385.85,1320.48 L1385.85,1319.39 L1384.55,1319.39 L1384.55,1321.02 L1383.4,1321.02 Z M1383.65,1292.1 L1387.44,1292.1 L1386.24,1325.04 L1384.54,1325.04 Z M1387.16,1292.1 L1389.25,1292.1 L1389.3,1326.9 L1387.45,1326.9 Z M1388.1,1292.1 L1390.7,1292.1 L1389.67,1327.3 L1388.67,1327.3 Z M1390.23,1292.1 L1393.41,1292.1 L1392.37,1320.67 L1390.93,1320.67 Z M1394.55,1292.1 L1398.48,1292.1 L1397.81,1324.35 L1395.94,1324.35 Z M1404.04,1292.1 L1407.01,1292.1 L1406.01,1326.27 L1404.94,1326.27 Z M1407.1,1292.1 L1410.4,1292.1 L1409.12,1327.32 L1407.55,1327.32 Z M1411.11,1292.1 L1413.4,1292.1 L1413.01,1320.7 L1411.96,1320.7 Z M1420.62,1292.1 L1422.79,1292.1 L1422.25,1324.16 L1420.51,1324.16 Z M1423.88,1292.1 L1427.77,1292.1 L1426.14,1324.81 L1424.98,1324.81 Z M1425.16,1292.1 L1429.05,1292.1 L1427.53,1320.85 L1425.9,1320.85 Z M1427.31,1292.1 L1431.24,1292.1 L1429.46,1320.95 L1428.1,1320.95 Z M1432.12,1292.1 L1435.42,1292.1 L1434.23,1322.26 L1432.45,1322.26 Z M1435.18,1292.1 L1437.63,1292.1 L1437.2,1327.15 L1435.95,1327.15 Z M1435.8,1292.1 L1439.4,1292.1 L1438.91,1326.01 L1436.96,1326.01 Z M1438.96,1292.1 L1442.03,1292.1 L1441.79,1323.15 L1440.16,1323.15 Z M1440.25,1292.1 L1443.15,1292.1 L1441.98,1323.4 L1440.74,1323.4 Z M1445.11,1292.1 L1448.49,1292.1 L1447.41,1324.09 L1446.15,1324.09 Z M1446.86,1292.1 L1449.13,1292.1 L1449.17,1321.2 L1447.52,1321.2 Z" fill="#0c0c0c" fill-rule="nonzero"/>
<path d="M759.7,1411.4 L826.3,1411.4 L826.3,1414.9 L824.96,1414.9 L824.96,1414.73 L822.96,1414.73 L822.96,1415.06 L821.18,1415.06 L821.18,1415.04 L819.69,1415.04 L819.69,1415.19 L818.02,1415.19 L818.02,1415.22 L816.26,1415.22 L816.26,1415.27 L814.72,1415.27 L814.72,1414.72 L813.46,1414.72 L813.46,1415.18 L812.18,1415.18 L812.18,1415.12 L810.46,1415.12 L810.46,1414.65 L808.59,1414.65 L808.59,1414.63 L806.63,1414.63 L806.63,1415.27 L805.31,1415.27 L805.31,1415.18 L803.48,1415.18 L803.48,1414.7 L801.72,1414.7 L801.72,1414.7 L799.72,1414.7 L799.72,1415.15 L797.66,1415.15 L797.66,1414.64 L796.24,1414.64 L796.24,1415.1 L794.53,1415.1 L794.53,1414.75 L792.56,1414.75 L792.56,1415.28 L791.15,1415.28 L791.15,1414.72 L789.39,1414.72 L789.39,1414.93 L787.64,1414.93 L787.64,1414.99 L786.14,1414.99 L786.14,1414.62 L784.89,1414.62 L784.89,1414.97 L783.07,1414.97 L783.07,1414.94 L781.23,1414.94 L781.23,1415.03 L779.27,1415.03 L779.27,1415.12 L777.84,1415.12 L777.84,1414.71 L776.66,1414.71 L776.66,1414.63 L774.71,1414.63 L774.71,1415.3 L772.87,1415.3 L772.87,1414.69 L771.11,1414.69 L771.11,1414.7 L769.14,1414.7 L769.14,1415.12 L767.3,1415.12 L767.3,1415.09 L765.78,1415.09 L765.78,1415.28 L763.73,1415.28 L763.73,1414.79 L762.19,1414.79 L762.19,1415.19 L760.42,1415.19 L760.42,1414.93 L759.7,1414.93 Z M760.92,1411.9 L763.35,1411.9 L762.76,1416.18 L761.07,1416.18 Z M798.17,1411.9 L802.02,1411.9 L801.17,1416.25 L799.79,1416.25 Z M822.06,1411.9 L824.49,1411.9 L823.39,1416.9 L822.22,1416.9 Z M817.8,1411.9 L825.8,1411.9 L824.3,1426.9 L819.3,1426.9 Z" fill="#0c0c0c" fill-rule="nonzero"/>
<path d="M836.8,1411.7 L902,1411.7 L902,1415.02 L899.14,1415.02 L899.14,1414.9 L895.8,1414.9 L895.8,1415.06 L891.38,1415.06 L891.38,1415.11 L888.37,1415.11 L888.37,1414.95 L885.5,1414.95 L885.5,1414.88 L881.49,1414.88 L881.49,1414.81 L878.21,1414.81 L878.21,1415.03 L874.1,1415.03 L874.1,1414.88 L869.89,1414.88 L869.89,1415.08 L867.07,1415.08 L867.07,1415.08 L862.6,1415.08 L862.6,1414.92 L859.42,1414.92 L859.42,1415.14 L855.82,1415.14 L855.82,1414.83 L852.78,1414.83 L852.78,1415.1 L848.53,1415.1 L848.53,1415.08 L843.98,1415.08 L843.98,1414.99 L838.85,1414.99 L838.85,1414.93 L836.8,1414.93 Z" fill="#0c0c0c" fill-rule="nonzero"/>
<path d="M917.9,1412.6 L998.7,1412.6 L998.7,1420.7 L996.91,1420.7 L996.91,1420.96 L995.35,1420.96 L995.35,1422.28 L993.47,1422.28 L993.47,1421.73 L991.87,1421.73 L991.87,1420.65 L990.33,1420.65 L990.33,1421.53 L988.39,1421.53 L988.39,1421.97 L986.55,1421.97 L986.55,1421.69 L985.26,1421.69 L985.26,1422.73 L983.35,1422.73 L983.35,1421.54 L982.14,1421.54 L982.14,1421.88 L980.55,1421.88 L980.55,1422.53 L978.85,1422.53 L978.85,1421.87 L977.18,1421.87 L977.18,1421.54 L976.01,1421.54 L976.01,1420.75 L973.99,1420.75 L973.99,1422.7 L972.58,1422.7 L972.58,1422.82 L970.96,1422.82 L970.96,1420.86 L969.02,1420.86 L969.02,1422.06 L967.01,1422.06 L967.01,1422.3 L965.8,1422.3 L965.8,1422.16 L963.92,1422.16 L963.92,1422.85 L962.48,1422.85 L962.48,1421.92 L960.69,1421.92 L960.69,1421.02 L958.75,1421.02 L958.75,1422.55 L957.59,1422.55 L957.59,1422.08 L956.11,1422.08 L956.11,1421.07 L954.41,1421.07 L954.41,1423.02 L952.76,1423.02 L952.76,1420.88 L951.17,1420.88 L951.17,1422.55 L949.13,1422.55 L949.13,1422.39 L947.97,1422.39 L947.97,1423.02 L946.27,1423.02 L946.27,1420.81 L945.03,1420.81 L945.03,1420.82 L943.27,1420.82 L943.27,1420.99 L941.38,1420.99 L941.38,1420.87 L939.74,1420.87 L939.74,1421.71 L938.59,1421.71 L938.59,1420.61 L936.6,1420.61 L936.6,1423.04 L935.36,1423.04 L935.36,1422.44 L933.29,1422.44 L933.29,1422.86 L931.32,1422.86 L931.32,1421.44 L929.51,1421.44 L929.51,1421.85 L927.49,1421.85 L927.49,1422.36 L925.56,1422.36 L925.56,1422.74 L924.07,1422.74 L924.07,1422.38 L922.86,1422.38 L922.86,1421.12 L920.84,1421.12 L920.84,1421.61 L919.07,1421.61 L919.07,1422.04 L917.9,1422.04 Z M917.9,1413.1 L921.98,1413.1 L920.27,1435.48 L918.25,1435.48 Z M917.9,1413.1 L923.66,1413.1 L922.32,1434.42 L919.56,1434.42 Z M934.49,1413.1 L938.96,1413.1 L937.54,1428.01 L935.68,1428.01 Z M956.97,1413.1 L962.12,1413.1 L959.91,1428.04 L958.24,1428.04 Z M960.85,1413.1 L966.13,1413.1 L965.2,1431.9 L962.51,1431.9 Z M976.26,1413.1 L980.91,1413.1 L979.73,1431.51 L977.97,1431.51 Z M976.91,1413.1 L982.66,1413.1 L980.78,1426.61 L979.03,1426.61 Z M978.97,1413.1 L983,1413.1 L981.84,1429.89 L979.79,1429.89 Z M979.78,1413.1 L985.22,1413.1 L983.41,1427.33 L980.98,1427.33 Z M980.82,1413.1 L986.57,1413.1 L984.81,1428.41 L982.88,1428.41 Z M982.72,1413.1 L987.08,1413.1 L986.06,1432.93 L984.19,1432.93 Z M985.76,1413.1 L990.48,1413.1 L989.12,1432.2 L986.72,1432.2 Z M988.26,1413.1 L994.54,1413.1 L992.7,1430.08 L990.2,1430.08 Z" fill="#0c0c0c" fill-rule="nonzero"/>
<path d="M1013.8,1414.4 L1093.6,1414.4 L1093.6,1422.42 L1091.96,1422.42 L1091.96,1423.56 L1090.67,1423.56 L1090.67,1421.96 L1089.52,1421.96 L1089.52,1421.69 L1088.39,1421.69 L1088.39,1421.79 L1086.78,1421.79 L1086.78,1423.87 L1084.99,1423.87 L1084.99,1422.35 L1083.49,1422.35 L1083.49,1423.13 L1082.05,1423.13 L1082.05,1421.58 L1080.13,1421.58 L1080.13,1422.94 L1078.9,1422.94 L1078.9,1421.58 L1077.69,1421.58 L1077.69,1423.8 L1076.46,1423.8 L1076.46,1422.96 L1074.41,1422.96 L1074.41,1421.49 L1072.92,1421.49 L1072.92,1422.59 L1070.92,1422.59 L1070.92,1421.87 L1069.55,1421.87 L1069.55,1422.02 L1068.39,1422.02 L1068.39,1423.08 L1066.48,1423.08 L1066.48,1422.49 L1065.33,1422.49 L1065.33,1423.18 L1063.5,1423.18 L1063.5,1423.03 L1062.06,1423.03 L1062.06,1423.48 L1060.34,1423.48 L1060.34,1422.87 L1058.7,1422.87 L1058.7,1421.98 L1057.14,1421.98 L1057.14,1423.39 L1055.37,1423.39 L1055.37,1422.26 L1053.46,1422.26 L1053.46,1423.5 L1052.3,1423.5 L1052.3,1421.79 L1050.96,1421.79 L1050.96,1421.44 L1049.12,1421.44 L1049.12,1423.02 L1047.48,1423.02 L1047.48,1423.89 L1046.01,1423.89 L1046.01,1421.9 L1044.79,1421.9 L1044.79,1422.25 L1042.86,1422.25 L1042.86,1422.92 L1041.69,1422.92 L1041.69,1422.48 L1040.52,1422.48 L1040.52,1422.96 L1039.28,1422.96 L1039.28,1421.85 L1037.55,1421.85 L1037.55,1423.49 L1035.83,1423.49 L1035.83,1422.13 L1034.09,1422.13 L1034.09,1422.08 L1032.97,1422.08 L1032.97,1422.08 L1031.18,1422.08 L1031.18,1422.97 L1029.88,1422.97 L1029.88,1423.5 L1027.96,1423.5 L1027.96,1422.1 L1025.92,1422.1 L1025.92,1422.06 L1024.74,1422.06 L1024.74,1422.68 L1022.79,1422.68 L1022.79,1422.9 L1021.14,1422.9 L1021.14,1422.62 L1019.75,1422.62 L1019.75,1422.15 L1018.24,1422.15 L1018.24,1422.77 L1016.22,1422.77 L1016.22,1421.58 L1014.86,1421.58 L1014.86,1423.76 L1013.8,1423.76 Z M1013.8,1414.9 L1017.26,1414.9 L1015.38,1434.55 L1013.8,1434.55 Z M1023.73,1414.9 L1028.43,1414.9 L1027.52,1438.95 L1025.28,1438.95 Z M1024.77,1414.9 L1030.17,1414.9 L1028.09,1437.97 L1026.4,1437.97 Z M1026.95,1414.9 L1033.31,1414.9 L1030.81,1431.33 L1028.91,1431.33 Z M1032.28,1414.9 L1037.07,1414.9 L1035.67,1435.63 L1033.68,1435.63 Z M1043.53,1414.9 L1049.81,1414.9 L1048.22,1430.84 L1045.49,1430.84 Z M1051.59,1414.9 L1057.99,1414.9 L1056.22,1433.84 L1053.73,1433.84 Z M1054.9,1414.9 L1060.63,1414.9 L1058.52,1432.08 L1056.03,1432.08 Z M1057.37,1414.9 L1061.9,1414.9 L1060.2,1435.73 L1058.44,1435.73 Z M1058.34,1414.9 L1063.32,1414.9 L1062.07,1431.17 L1059.87,1431.17 Z M1059.52,1414.9 L1065.83,1414.9 L1064.03,1431.23 L1061.67,1431.23 Z M1065.77,1414.9 L1071.26,1414.9 L1069.66,1433.15 L1067.68,1433.15 Z M1074.04,1414.9 L1080.02,1414.9 L1077.42,1430.46 L1075.68,1430.46 Z M1075.16,1414.9 L1081.3,1414.9 L1079.24,1436.08 L1076.53,1436.08 Z M1077.92,1414.9 L1084.14,1414.9 L1082.08,1441.5 L1079.48,1441.5 Z M1080.31,1414.9 L1084.97,1414.9 L1083.98,1431.41 L1081.89,1431.41 Z M1085.81,1414.9 L1090.25,1414.9 L1089.49,1431.62 L1087.35,1431.62 Z M1088.37,1414.9 L1093.6,1414.9 L1092.55,1439.22 L1089.9,1439.22 Z" fill="#0c0c0c" fill-rule="nonzero"/>
<path d="M1111,1413.2 L1272.2,1413.2 L1272.2,1427.38 L1270.61,1427.38 L1270.61,1425.86 L1269.17,1425.86 L1269.17,1425.78 L1268.04,1425.78 L1268.04,1427.47 L1266.8,1427.47 L1266.8,1427.69 L1264.97,1427.69 L1264.97,1425.49 L1263.25,1425.49 L1263.25,1426.28 L1261.37,1426.28 L1261.37,1446.04 L1260.04,1446.04 L1260.04,1447.38 L1258.23,1447.38 L1258.23,1438.1 L1256.72,1438.1 L1256.72,1445.61 L1254.72,1445.61 L1254.72,1439.27 L1253.35,1439.27 L1253.35,1446.5 L1251.31,1446.5 L1251.31,1438.33 L1250.1,1438.33 L1250.1,1446.21 L1248.68,1446.21 L1248.68,1441.84 L1246.72,1441.84 L1246.72,1446.15 L1244.96,1446.15 L1244.96,1447.61 L1243.14,1447.61 L1243.14,1446.92 L1241.4,1446.92 L1241.4,1444.32 L1240.23,1444.32 L1240.23,1448.12 L1238.23,1448.12 L1238.23,1441.42 L1236.51,1441.42 L1236.51,1437.4 L1234.91,1437.4 L1234.91,1444.68 L1233.51,1444.68 L1233.51,1442.17 L1231.59,1442.17 L1231.59,1438.92 L1230.03,1438.92 L1230.03,1438.24 L1228.54,1438.24 L1228.54,1447.79 L1226.83,1447.79 L1226.83,1437.55 L1224.89,1437.55 L1224.89,1445.1 L1223.27,1445.1 L1223.27,1440.66 L1221.86,1440.66 L1221.86,1439.39 L1220.14,1439.39 L1220.14,1437.8 L1218.11,1437.8 L1218.11,1438.43 L1216.4,1438.43 L1216.4,1444.11 L1214.93,1444.11 L1214.93,1440.54 L1213.39,1440.54 L1213.39,1441.15 L1211.33,1441.15 L1211.33,1444.36 L1209.72,1444.36 L1209.72,1444.51 L1208.12,1444.51 L1208.12,1440.39 L1206.98,1440.39 L1206.98,1446.96 L1205.05,1446.96 L1205.05,1439.96 L1203.34,1439.96 L1203.34,1445.48 L1201.36,1445.48 L1201.36,1447.72 L1200.12,1447.72 L1200.12,1450.34 L1198.42,1450.34 L1198.42,1447.86 L1196.63,1447.86 L1196.63,1453.24 L1195.08,1453.24 L1195.08,1453.99 L1193.59,1453.99 L1193.59,1453.87 L1192.1,1453.87 L1192.1,1450.42 L1190.62,1450.42 L1190.62,1460.88 L1188.65,1460.88 L1188.65,1455.78 L1186.97,1455.78 L1186.97,1461.88 L1185.18,1461.88 L1185.18,1457.07 L1183.71,1457.07 L1183.71,1462.29 L1182.38,1462.29 L1182.38,1462.83 L1180.89,1462.83 L1180.89,1422.28 L1179.09,1422.28 L1179.09,1422.92 L1177.4,1422.92 L1177.4,1423.67 L1175.67,1423.67 L1175.67,1423.86 L1173.92,1423.86 L1173.92,1422.55 L1172.75,1422.55 L1172.75,1423.83 L1171.41,1423.83 L1171.41,1421.1 L1170.24,1421.1 L1170.24,1422.69 L1168.76,1422.69 L1168.76,1422.81 L1166.86,1422.81 L1166.86,1423.97 L1164.97,1423.97 L1164.97,1423.55 L1163.49,1423.55 L1163.49,1420.41 L1161.63,1420.41 L1161.63,1424.18 L1160.06,1424.18 L1160.06,1423.8 L1158.4,1423.8 L1158.4,1421.74 L1156.48,1421.74 L1156.48,1420.45 L1155.01,1420.45 L1155.01,1422.98 L1153.82,1422.98 L1153.82,1422.42 L1152.32,1422.42 L1152.32,1421.08 L1150.81,1421.08 L1150.81,1423.17 L1149.05,1423.17 L1149.05,1422.57 L1147.18,1422.57 L1147.18,1421.84 L1145.51,1421.84 L1145.51,1420.6 L1143.75,1420.6 L1143.75,1422.87 L1142.03,1422.87 L1142.03,1423.39 L1139.97,1423.39 L1139.97,1423.09 L1137.91,1423.09 L1137.91,1422.82 L1136.52,1422.82 L1136.52,1423.66 L1134.76,1423.66 L1134.76,1422.71 L1133.5,1422.71 L1133.5,1422.46 L1132.05,1422.46 L1132.05,1422.51 L1130.05,1422.51 L1130.05,1421.73 L1128.91,1421.73 L1128.91,1420.69 L1127.27,1420.69 L1127.27,1423.57 L1126.11,1423.57 L1126.11,1421.85 L1124.66,1421.85 L1124.66,1421.97 L1122.94,1421.97 L1122.94,1422.21 L1121.56,1422.21 L1121.56,1423.68 L1119.66,1423.68 L1119.66,1423.79 L1118.42,1423.79 L1118.42,1422.34 L1117.07,1422.34 L1117.07,1420.59 L1115.06,1420.59 L1115.06,1422.84 L1113.5,1422.84 L1113.5,1423.26 L1111.57,1423.26 L1111.57,1422.06 L1111,1422.06 Z M1111,1413.7 L1115.93,1413.7 L1114.26,1465.99 L1112.39,1465.99 Z M1118.32,1413.7 L1122.74,1413.7 L1121.9,1482.61 L1120.13,1482.61 Z M1120.13,1413.7 L1126.22,1413.7 L1124.16,1471.07 L1121.98,1471.07 Z M1128.45,1413.7 L1132.52,1413.7 L1131.65,1470.66 L1130,1470.66 Z M1130.96,1413.7 L1136.45,1413.7 L1134.85,1475.45 L1132.25,1475.45 Z M1132.89,1413.7 L1137.77,1413.7 L1137.17,1459.2 L1134.24,1459.2 Z M1134.76,1413.7 L1141.54,1413.7 L1139.65,1445.64 L1136.92,1445.64 Z M1147.12,1413.7 L1152.94,1413.7 L1151.19,1475.82 L1149.11,1475.82 Z M1149.74,1413.7 L1154.23,1413.7 L1153.04,1451.92 L1151.29,1451.92 Z M1150.29,1413.7 L1157.04,1413.7 L1154.27,1484.75 L1152.27,1484.75 Z M1157.49,1413.7 L1162.6,1413.7 L1161.81,1479.46 L1159.15,1479.46 Z M1159.23,1413.7 L1165.08,1413.7 L1163.75,1463.38 L1160.97,1463.38 Z M1175.77,1413.7 L1180.05,1413.7 L1179.23,1450.53 L1177.46,1450.53 Z M1176.94,1413.7 L1181.4,1413.7 L1180.02,1447.21 L1178.39,1447.21 Z M1180.74,1413.7 L1184.8,1413.7 L1183.99,1467.48 L1181.93,1467.48 Z M1181.3,1413.7 L1186.64,1413.7 L1185.71,1466.62 L1183.1,1466.62 Z M1187.79,1413.7 L1193.64,1413.7 L1192.12,1472.17 L1189.59,1472.17 Z M1188.68,1413.7 L1195.15,1413.7 L1193.25,1465.7 L1190.56,1465.7 Z M1194.13,1413.7 L1198.64,1413.7 L1198.09,1473.7 L1195.39,1473.7 Z M1195.29,1413.7 L1199.87,1413.7 L1198.57,1483.53 L1195.98,1483.53 Z M1195.8,1413.7 L1201.76,1413.7 L1200.72,1461.97 L1197.6,1461.97 Z M1196.95,1413.7 L1203.01,1413.7 L1201.36,1485.05 L1198.95,1485.05 Z M1199.94,1413.7 L1204.77,1413.7 L1203.14,1465.17 L1201.01,1465.17 Z M1204.25,1413.7 L1210.21,1413.7 L1208.3,1462.06 L1205.63,1462.06 Z M1206,1413.7 L1211.29,1413.7 L1209.42,1457.78 L1207.13,1457.78 Z M1209.57,1413.7 L1215.62,1413.7 L1214.71,1465.7 L1211.32,1465.7 Z M1214.11,1413.7 L1219.66,1413.7 L1218.07,1471.2 L1216.05,1471.2 Z M1215.27,1413.7 L1221.83,1413.7 L1220.4,1466.61 L1217.27,1466.61 Z M1216.59,1413.7 L1222.92,1413.7 L1221.42,1471.59 L1218.06,1471.59 Z M1220.41,1413.7 L1225.09,1413.7 L1224.45,1473.13 L1221.14,1473.13 Z M1220.67,1413.7 L1227.24,1413.7 L1224.74,1473.59 L1222.5,1473.59 Z M1223.21,1413.7 L1229.5,1413.7 L1227.79,1460.23 L1224.87,1460.23 Z M1225.33,1413.7 L1230.24,1413.7 L1229.15,1484.49 L1226.3,1484.49 Z M1233.36,1413.7 L1237.38,1413.7 L1236.75,1467.8 L1234.08,1467.8 Z M1235.32,1413.7 L1241.98,1413.7 L1239.96,1475.17 L1237.6,1475.17 Z M1239.71,1413.7 L1246.12,1413.7 L1244.33,1482.17 L1241.34,1482.17 Z M1246.38,1413.7 L1251.67,1413.7 L1251.11,1478.16 L1247.7,1478.16 Z M1253.96,1413.7 L1260.8,1413.7 L1258.59,1483.83 L1255.97,1483.83 Z M1263.27,1413.7 L1269.11,1413.7 L1267.25,1438.53 L1264.5,1438.53 Z M1266.4,1413.7 L1271.64,1413.7 L1270.71,1448.15 L1267.83,1448.15 Z" fill="#0c0c0c" fill-rule="nonzero"/>
<path d="M1284.2,1416.1 L1397.9,1416.1 L1397.9,1487.34 L1396.4,1487.34 L1396.4,1486.92 L1394.45,1486.92 L1394.45,1486.42 L1392.84,1486.42 L1392.84,1486.92 L1390.81,1486.92 L1390.81,1486.15 L1389.62,1486.15 L1389.62,1486.55 L1387.71,1486.55 L1387.71,1487.28 L1386.46,1487.28 L1386.46,1487.39 L1384.83,1487.39 L1384.83,1487.46 L1382.81,1487.46 L1382.81,1486.23 L1380.76,1486.23 L1380.76,1486.77 L1379.49,1486.77 L1379.49,1486.75 L1378.3,1486.75 L1378.3,1487.15 L1376.65,1487.15 L1376.65,1486.25 L1375.32,1486.25 L1375.32,1486.81 L1373.45,1486.81 L1373.45,1486.49 L1372.23,1486.49 L1372.23,1486.6 L1371.04,1486.6 L1371.04,1486.57 L1369.08,1486.57 L1369.08,1486.36 L1367.67,1486.36 L1367.67,1487.18 L1366.36,1487.18 L1366.36,1486.26 L1365,1486.26 L1365,1486.95 L1363.2,1486.95 L1363.2,1487.05 L1362.02,1487.05 L1362.02,1486.5 L1360.78,1486.5 L1360.78,1486.88 L1359.31,1486.88 L1359.31,1487.15 L1357.65,1487.15 L1357.65,1486.92 L1356.36,1486.92 L1356.36,1486.86 L1355.18,1486.86 L1355.18,1486.24 L1353.24,1486.24 L1353.24,1486.34 L1352.11,1486.34 L1352.11,1487.1 L1350.82,1487.1 L1350.82,1486.52 L1349.15,1486.52 L1349.15,1487.42 L1348,1487.42 L1348,1487.01 L1346.85,1487.01 L1346.85,1487.18 L1345.38,1487.18 L1345.38,1486.22 L1343.88,1486.22 L1343.88,1487.01 L1342.63,1487.01 L1342.63,1486.63 L1340.76,1486.63 L1340.76,1487.25 L1338.94,1487.25 L1338.94,1486.76 L1337.15,1486.76 L1337.15,1486.31 L1335.66,1486.31 L1335.66,1486.54 L1334.41,1486.54 L1334.41,1486.16 L1333.24,1486.16 L1333.24,1487.47 L1331.76,1487.47 L1331.76,1486.55 L1330.01,1486.55 L1330.01,1487.11 L1328.03,1487.11 L1328.03,1487.38 L1326.85,1487.38 L1326.85,1486.45 L1325.36,1486.45 L1325.36,1486.53 L1323.71,1486.53 L1323.71,1486.44 L1321.72,1486.44 L1321.72,1486.56 L1319.74,1486.56 L1319.74,1487.4 L1317.99,1487.4 L1317.99,1486.48 L1316.82,1486.48 L1316.82,1487.49 L1314.81,1487.49 L1314.81,1486.79 L1313.63,1486.79 L1313.63,1487.17 L1312.23,1487.17 L1312.23,1486.71 L1310.17,1486.71 L1310.17,1487.38 L1308.23,1487.38 L1308.23,1486.2 L1306.49,1486.2 L1306.49,1486.95 L1304.68,1486.95 L1304.68,1486.12 L1302.68,1486.12 L1302.68,1486.34 L1301.56,1486.34 L1301.56,1487.02 L1299.73,1487.02 L1299.73,1487.1 L1298.53,1487.1 L1298.53,1486.42 L1296.89,1486.42 L1296.89,1486.95 L1295.06,1486.95 L1295.06,1486.12 L1293.31,1486.12 L1293.31,1486.4 L1291.86,1486.4 L1291.86,1486.32 L1290.26,1486.32 L1290.26,1486.46 L1288.54,1486.46 L1288.54,1486.5 L1287.31,1486.5 L1287.31,1486.56 L1285.9,1486.56 L1285.9,1486.51 L1284.2,1486.51 Z" fill="#0c0c0c" fill-rule="nonzero"/>
<line x1="1435.6" y1="1439.4" x2="1435.6" y2="1463.6" stroke="#0c0c0c" stroke-width="4.2" stroke-linecap="butt"/>
<line x1="1428.9" y1="1439.9" x2="1442.1" y2="1439.9" stroke="#0c0c0c" stroke-width="2.8" stroke-linecap="butt"/>
<line x1="1428.9" y1="1463.2" x2="1442.1" y2="1463.2" stroke="#0c0c0c" stroke-width="2.8" stroke-linecap="butt"/>
<line x1="1416.5" y1="1470.9" x2="1453.4" y2="1470.9" stroke="#0c0c0c" stroke-width="3.8" stroke-linecap="butt"/>
<line x1="1418.2" y1="1464.4" x2="1418.2" y2="1476.8" stroke="#0c0c0c" stroke-width="3.4" stroke-linecap="butt"/>
<line x1="1451.7" y1="1465.5" x2="1451.7" y2="1478.5" stroke="#0c0c0c" stroke-width="3.4" stroke-linecap="butt"/>
</svg>
</body></html>
